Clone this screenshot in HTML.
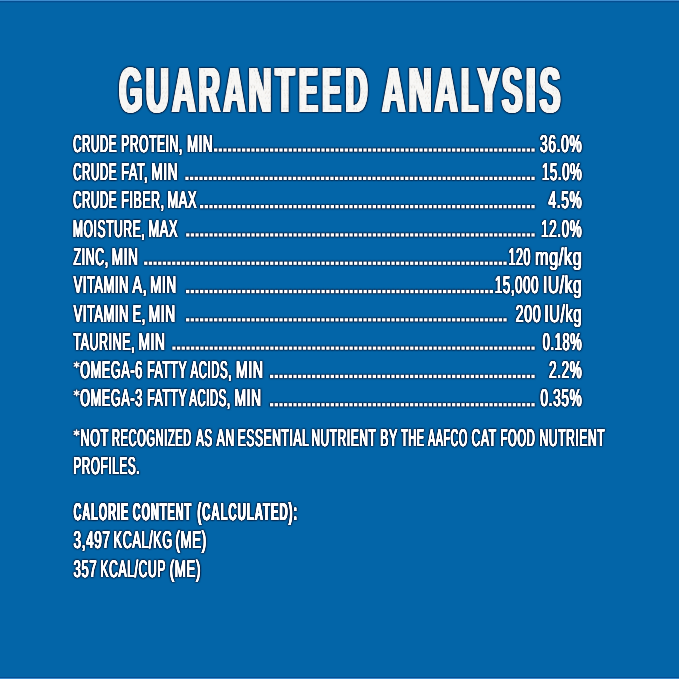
<!DOCTYPE html>
<html><head><meta charset="utf-8"><style>
html,body{margin:0;padding:0;background:#0365a8;}
body{width:679px;height:679px;overflow:hidden;position:relative;}
svg{position:absolute;left:0;top:0;}
text{font-family:"Liberation Sans",sans-serif;}
</style></head><body>
<svg width="679" height="679" viewBox="0 0 679 679" text-rendering="geometricPrecision">
<rect x="0" y="0" width="679" height="679" fill="#0365a8"/>
<rect x="0" y="0" width="679" height="1" fill="#3d8ccf"/>
<rect x="0" y="1" width="679" height="1" fill="#064f93"/>
<rect x="0" y="2" width="679" height="1" fill="#045da0"/>
<rect x="0" y="677" width="679" height="1" fill="#064f93"/>
<rect x="0" y="678" width="679" height="1" fill="#3d8ccf"/>
<defs><pattern id="speck" patternUnits="userSpaceOnUse" width="48" height="48"><rect width="48" height="48" fill="#f8f7f5"/><circle cx="15.5" cy="7.2" r="0.64" fill="#b8b2aa" fill-opacity="0.75"/><circle cx="39.4" cy="4.5" r="0.61" fill="#c9c2b8" fill-opacity="0.75"/><circle cx="1.8" cy="20.8" r="0.38" fill="#b8b2aa" fill-opacity="0.75"/><circle cx="26.5" cy="2.8" r="0.60" fill="#c9c2b8" fill-opacity="0.75"/><circle cx="30.3" cy="28.0" r="0.38" fill="#d4cdc4" fill-opacity="0.75"/><circle cx="2.4" cy="10.6" r="0.60" fill="#c9c2b8" fill-opacity="0.75"/><circle cx="13.9" cy="6.9" r="0.40" fill="#a9b4c2" fill-opacity="0.75"/><circle cx="26.9" cy="32.7" r="0.40" fill="#c9c2b8" fill-opacity="0.75"/><circle cx="17.9" cy="26.3" r="0.38" fill="#b8b2aa" fill-opacity="0.75"/><circle cx="29.7" cy="23.8" r="0.59" fill="#a9b4c2" fill-opacity="0.75"/><circle cx="22.3" cy="44.3" r="0.51" fill="#c9c2b8" fill-opacity="0.75"/><circle cx="38.1" cy="33.6" r="0.46" fill="#a9b4c2" fill-opacity="0.75"/><circle cx="25.2" cy="42.0" r="0.68" fill="#a9b4c2" fill-opacity="0.75"/><circle cx="29.2" cy="3.5" r="0.58" fill="#c9c2b8" fill-opacity="0.75"/><circle cx="36.3" cy="7.3" r="0.57" fill="#b8b2aa" fill-opacity="0.75"/><circle cx="46.2" cy="3.7" r="0.60" fill="#a9b4c2" fill-opacity="0.75"/><circle cx="16.3" cy="16.8" r="0.57" fill="#d4cdc4" fill-opacity="0.75"/><circle cx="3.3" cy="4.5" r="0.47" fill="#b8b2aa" fill-opacity="0.75"/><circle cx="2.9" cy="33.7" r="0.64" fill="#d4cdc4" fill-opacity="0.75"/><circle cx="13.7" cy="18.5" r="0.65" fill="#b8b2aa" fill-opacity="0.75"/><circle cx="45.2" cy="17.1" r="0.62" fill="#d4cdc4" fill-opacity="0.75"/><circle cx="2.8" cy="36.9" r="0.41" fill="#c9c2b8" fill-opacity="0.75"/><circle cx="19.1" cy="44.0" r="0.57" fill="#c9c2b8" fill-opacity="0.75"/><circle cx="21.6" cy="26.4" r="0.75" fill="#d4cdc4" fill-opacity="0.75"/><circle cx="41.5" cy="13.4" r="0.54" fill="#a9b4c2" fill-opacity="0.75"/><circle cx="32.8" cy="18.3" r="0.45" fill="#b8b2aa" fill-opacity="0.75"/><circle cx="8.5" cy="11.1" r="0.46" fill="#d4cdc4" fill-opacity="0.75"/><circle cx="39.9" cy="8.8" r="0.48" fill="#c9c2b8" fill-opacity="0.75"/><circle cx="20.1" cy="17.7" r="0.60" fill="#c9c2b8" fill-opacity="0.75"/><circle cx="33.1" cy="24.7" r="0.63" fill="#b8b2aa" fill-opacity="0.75"/><circle cx="21.9" cy="41.8" r="0.78" fill="#d4cdc4" fill-opacity="0.75"/><circle cx="19.1" cy="18.9" r="0.57" fill="#d4cdc4" fill-opacity="0.75"/><circle cx="3.0" cy="3.2" r="0.44" fill="#c9c2b8" fill-opacity="0.75"/><circle cx="5.3" cy="28.8" r="0.40" fill="#c9c2b8" fill-opacity="0.75"/><circle cx="25.8" cy="45.5" r="0.63" fill="#b8b2aa" fill-opacity="0.75"/><circle cx="42.0" cy="29.5" r="0.42" fill="#a9b4c2" fill-opacity="0.75"/><circle cx="45.9" cy="28.9" r="0.56" fill="#b8b2aa" fill-opacity="0.75"/><circle cx="40.7" cy="47.7" r="0.56" fill="#d4cdc4" fill-opacity="0.75"/><circle cx="15.0" cy="6.9" r="0.69" fill="#a9b4c2" fill-opacity="0.75"/><circle cx="23.0" cy="33.2" r="0.58" fill="#c9c2b8" fill-opacity="0.75"/><circle cx="45.6" cy="25.4" r="0.42" fill="#b8b2aa" fill-opacity="0.75"/><circle cx="36.4" cy="14.3" r="0.64" fill="#b8b2aa" fill-opacity="0.75"/><circle cx="33.4" cy="12.5" r="0.52" fill="#c9c2b8" fill-opacity="0.75"/><circle cx="17.1" cy="10.7" r="0.59" fill="#a9b4c2" fill-opacity="0.75"/><circle cx="30.5" cy="29.4" r="0.70" fill="#c9c2b8" fill-opacity="0.75"/><circle cx="38.7" cy="39.3" r="0.68" fill="#c9c2b8" fill-opacity="0.75"/><circle cx="9.6" cy="23.7" r="0.68" fill="#b8b2aa" fill-opacity="0.75"/><circle cx="37.9" cy="22.7" r="0.44" fill="#a9b4c2" fill-opacity="0.75"/><circle cx="21.5" cy="45.0" r="0.79" fill="#a9b4c2" fill-opacity="0.75"/><circle cx="3.9" cy="4.9" r="0.56" fill="#a9b4c2" fill-opacity="0.75"/><circle cx="9.8" cy="30.0" r="0.76" fill="#b8b2aa" fill-opacity="0.75"/><circle cx="23.0" cy="31.3" r="0.71" fill="#b8b2aa" fill-opacity="0.75"/><circle cx="40.1" cy="5.8" r="0.52" fill="#c9c2b8" fill-opacity="0.75"/><circle cx="22.9" cy="8.6" r="0.71" fill="#a9b4c2" fill-opacity="0.75"/><circle cx="4.2" cy="45.4" r="0.67" fill="#d4cdc4" fill-opacity="0.75"/><circle cx="19.3" cy="45.4" r="0.68" fill="#c9c2b8" fill-opacity="0.75"/><circle cx="47.7" cy="1.3" r="0.62" fill="#d4cdc4" fill-opacity="0.75"/><circle cx="38.7" cy="7.0" r="0.72" fill="#d4cdc4" fill-opacity="0.75"/><circle cx="31.5" cy="16.8" r="0.60" fill="#c9c2b8" fill-opacity="0.75"/><circle cx="1.0" cy="38.4" r="0.68" fill="#b8b2aa" fill-opacity="0.75"/><circle cx="25.3" cy="44.8" r="0.55" fill="#c9c2b8" fill-opacity="0.75"/><circle cx="39.7" cy="10.1" r="0.46" fill="#a9b4c2" fill-opacity="0.75"/><circle cx="24.1" cy="36.7" r="0.50" fill="#d4cdc4" fill-opacity="0.75"/><circle cx="40.0" cy="2.9" r="0.68" fill="#d4cdc4" fill-opacity="0.75"/><circle cx="31.8" cy="39.1" r="0.58" fill="#c9c2b8" fill-opacity="0.75"/><circle cx="25.5" cy="25.1" r="0.36" fill="#d4cdc4" fill-opacity="0.75"/><circle cx="37.3" cy="29.2" r="0.70" fill="#c9c2b8" fill-opacity="0.75"/><circle cx="8.3" cy="22.7" r="0.68" fill="#b8b2aa" fill-opacity="0.75"/><circle cx="15.6" cy="24.9" r="0.60" fill="#b8b2aa" fill-opacity="0.75"/><circle cx="42.4" cy="2.7" r="0.44" fill="#b8b2aa" fill-opacity="0.75"/><circle cx="37.1" cy="24.4" r="0.60" fill="#b8b2aa" fill-opacity="0.75"/><circle cx="21.3" cy="29.4" r="0.58" fill="#c9c2b8" fill-opacity="0.75"/><circle cx="33.3" cy="21.7" r="0.59" fill="#d4cdc4" fill-opacity="0.75"/><circle cx="24.4" cy="11.9" r="0.59" fill="#a9b4c2" fill-opacity="0.75"/><circle cx="44.3" cy="42.9" r="0.44" fill="#d4cdc4" fill-opacity="0.75"/><circle cx="6.6" cy="5.8" r="0.55" fill="#b8b2aa" fill-opacity="0.75"/><circle cx="32.2" cy="20.6" r="0.45" fill="#a9b4c2" fill-opacity="0.75"/><circle cx="37.6" cy="43.1" r="0.42" fill="#a9b4c2" fill-opacity="0.75"/><circle cx="6.9" cy="42.4" r="0.79" fill="#c9c2b8" fill-opacity="0.75"/><circle cx="35.8" cy="4.5" r="0.75" fill="#c9c2b8" fill-opacity="0.75"/><circle cx="47.5" cy="40.0" r="0.42" fill="#d4cdc4" fill-opacity="0.75"/><circle cx="47.7" cy="19.4" r="0.54" fill="#a9b4c2" fill-opacity="0.75"/><circle cx="15.3" cy="34.7" r="0.36" fill="#d4cdc4" fill-opacity="0.75"/><circle cx="21.1" cy="0.9" r="0.50" fill="#a9b4c2" fill-opacity="0.75"/><circle cx="24.6" cy="3.1" r="0.79" fill="#c9c2b8" fill-opacity="0.75"/><circle cx="46.6" cy="5.0" r="0.47" fill="#b8b2aa" fill-opacity="0.75"/><circle cx="43.5" cy="8.7" r="0.69" fill="#d4cdc4" fill-opacity="0.75"/><circle cx="40.8" cy="32.4" r="0.78" fill="#d4cdc4" fill-opacity="0.75"/><circle cx="7.2" cy="44.1" r="0.61" fill="#a9b4c2" fill-opacity="0.75"/><circle cx="4.3" cy="2.8" r="0.66" fill="#d4cdc4" fill-opacity="0.75"/><circle cx="43.0" cy="12.9" r="0.36" fill="#b8b2aa" fill-opacity="0.75"/><circle cx="38.5" cy="4.0" r="0.74" fill="#b8b2aa" fill-opacity="0.75"/><circle cx="12.7" cy="5.8" r="0.36" fill="#d4cdc4" fill-opacity="0.75"/><circle cx="44.5" cy="12.9" r="0.41" fill="#c9c2b8" fill-opacity="0.75"/><circle cx="45.0" cy="46.5" r="0.47" fill="#c9c2b8" fill-opacity="0.75"/><circle cx="9.7" cy="15.0" r="0.49" fill="#c9c2b8" fill-opacity="0.75"/><circle cx="13.9" cy="24.0" r="0.43" fill="#a9b4c2" fill-opacity="0.75"/><circle cx="38.6" cy="47.7" r="0.37" fill="#b8b2aa" fill-opacity="0.75"/><circle cx="35.2" cy="26.5" r="0.44" fill="#d4cdc4" fill-opacity="0.75"/><circle cx="11.8" cy="21.5" r="0.65" fill="#d4cdc4" fill-opacity="0.75"/><circle cx="31.5" cy="26.2" r="0.75" fill="#a9b4c2" fill-opacity="0.75"/><circle cx="33.0" cy="47.2" r="0.50" fill="#c9c2b8" fill-opacity="0.75"/><circle cx="19.4" cy="16.7" r="0.37" fill="#c9c2b8" fill-opacity="0.75"/><circle cx="0.7" cy="30.0" r="0.75" fill="#d4cdc4" fill-opacity="0.75"/><circle cx="7.8" cy="4.1" r="0.73" fill="#a9b4c2" fill-opacity="0.75"/><circle cx="28.7" cy="33.2" r="0.37" fill="#c9c2b8" fill-opacity="0.75"/><circle cx="7.6" cy="21.4" r="0.47" fill="#a9b4c2" fill-opacity="0.75"/><circle cx="46.7" cy="26.3" r="0.46" fill="#a9b4c2" fill-opacity="0.75"/><circle cx="10.5" cy="8.8" r="0.50" fill="#b8b2aa" fill-opacity="0.75"/><circle cx="22.8" cy="24.1" r="0.44" fill="#b8b2aa" fill-opacity="0.75"/><circle cx="4.4" cy="39.2" r="0.41" fill="#b8b2aa" fill-opacity="0.75"/><circle cx="18.9" cy="14.4" r="0.63" fill="#b8b2aa" fill-opacity="0.75"/><circle cx="28.1" cy="25.4" r="0.69" fill="#d4cdc4" fill-opacity="0.75"/><circle cx="36.7" cy="34.6" r="0.57" fill="#a9b4c2" fill-opacity="0.75"/><circle cx="34.8" cy="30.9" r="0.37" fill="#d4cdc4" fill-opacity="0.75"/><circle cx="35.2" cy="39.0" r="0.41" fill="#b8b2aa" fill-opacity="0.75"/><circle cx="39.7" cy="28.0" r="0.75" fill="#c9c2b8" fill-opacity="0.75"/><circle cx="4.1" cy="2.0" r="0.64" fill="#b8b2aa" fill-opacity="0.75"/><circle cx="18.1" cy="21.7" r="0.37" fill="#b8b2aa" fill-opacity="0.75"/><circle cx="30.1" cy="32.7" r="0.57" fill="#b8b2aa" fill-opacity="0.75"/></pattern><filter id="halo" filterUnits="userSpaceOnUse" x="0" y="0" width="679" height="679" color-interpolation-filters="sRGB">
<feGaussianBlur in="SourceAlpha" stdDeviation="1.0" result="b"/>
<feComponentTransfer in="b" result="a"><feFuncA type="linear" slope="2.6" intercept="0"/></feComponentTransfer>
<feFlood flood-color="#041d40" flood-opacity="0.9" result="f"/>
<feComposite in="f" in2="a" operator="in" result="h"/>
<feMerge><feMergeNode in="h"/><feMergeNode in="SourceGraphic"/></feMerge>
</filter></defs>
<g filter="url(#halo)">
<g fill="url(#speck)"><g font-weight="bold"><text transform="translate(119.17 111.70) scale(0.4650 1)" font-size="63.81">G</text><text transform="translate(145.92 111.70) scale(0.4940 1)" font-size="63.81">U</text><text transform="translate(172.20 111.70) scale(0.5015 1)" font-size="63.81">A</text><text transform="translate(198.67 111.70) scale(0.4599 1)" font-size="63.81">R</text><text transform="translate(223.53 111.70) scale(0.4673 1)" font-size="63.81">A</text><text transform="translate(248.52 111.70) scale(0.4962 1)" font-size="63.81">N</text><text transform="translate(275.50 111.70) scale(0.4835 1)" font-size="63.81">T</text><text transform="translate(299.04 111.70) scale(0.4419 1)" font-size="63.81">E</text><text transform="translate(322.25 111.70) scale(0.4392 1)" font-size="63.81">E</text><text transform="translate(345.59 111.70) scale(0.4789 1)" font-size="63.81">D</text><text transform="translate(382.31 111.70) scale(0.4947 1)" font-size="63.81">A</text><text transform="translate(408.72 111.70) scale(0.4962 1)" font-size="63.81">N</text><text transform="translate(434.81 111.70) scale(0.4947 1)" font-size="63.81">A</text><text transform="translate(461.18 111.70) scale(0.4307 1)" font-size="63.81">L</text><text transform="translate(477.79 111.70) scale(0.5088 1)" font-size="63.81">Y</text><text transform="translate(502.02 111.70) scale(0.4764 1)" font-size="63.81">S</text><text transform="translate(525.54 111.70) scale(0.5918 1)" font-size="63.81">I</text><text transform="translate(539.82 111.70) scale(0.4814 1)" font-size="63.81">S</text></g>
<g font-weight="bold" transform="translate(0.38 0)"><text transform="translate(119.17 111.70) scale(0.4650 1)" font-size="63.81">G</text><text transform="translate(145.92 111.70) scale(0.4940 1)" font-size="63.81">U</text><text transform="translate(172.20 111.70) scale(0.5015 1)" font-size="63.81">A</text><text transform="translate(198.67 111.70) scale(0.4599 1)" font-size="63.81">R</text><text transform="translate(223.53 111.70) scale(0.4673 1)" font-size="63.81">A</text><text transform="translate(248.52 111.70) scale(0.4962 1)" font-size="63.81">N</text><text transform="translate(275.50 111.70) scale(0.4835 1)" font-size="63.81">T</text><text transform="translate(299.04 111.70) scale(0.4419 1)" font-size="63.81">E</text><text transform="translate(322.25 111.70) scale(0.4392 1)" font-size="63.81">E</text><text transform="translate(345.59 111.70) scale(0.4789 1)" font-size="63.81">D</text><text transform="translate(382.31 111.70) scale(0.4947 1)" font-size="63.81">A</text><text transform="translate(408.72 111.70) scale(0.4962 1)" font-size="63.81">N</text><text transform="translate(434.81 111.70) scale(0.4947 1)" font-size="63.81">A</text><text transform="translate(461.18 111.70) scale(0.4307 1)" font-size="63.81">L</text><text transform="translate(477.79 111.70) scale(0.5088 1)" font-size="63.81">Y</text><text transform="translate(502.02 111.70) scale(0.4764 1)" font-size="63.81">S</text><text transform="translate(525.54 111.70) scale(0.5918 1)" font-size="63.81">I</text><text transform="translate(539.82 111.70) scale(0.4814 1)" font-size="63.81">S</text></g>
<g font-weight="bold" transform="translate(-0.38 0)"><text transform="translate(119.17 111.70) scale(0.4650 1)" font-size="63.81">G</text><text transform="translate(145.92 111.70) scale(0.4940 1)" font-size="63.81">U</text><text transform="translate(172.20 111.70) scale(0.5015 1)" font-size="63.81">A</text><text transform="translate(198.67 111.70) scale(0.4599 1)" font-size="63.81">R</text><text transform="translate(223.53 111.70) scale(0.4673 1)" font-size="63.81">A</text><text transform="translate(248.52 111.70) scale(0.4962 1)" font-size="63.81">N</text><text transform="translate(275.50 111.70) scale(0.4835 1)" font-size="63.81">T</text><text transform="translate(299.04 111.70) scale(0.4419 1)" font-size="63.81">E</text><text transform="translate(322.25 111.70) scale(0.4392 1)" font-size="63.81">E</text><text transform="translate(345.59 111.70) scale(0.4789 1)" font-size="63.81">D</text><text transform="translate(382.31 111.70) scale(0.4947 1)" font-size="63.81">A</text><text transform="translate(408.72 111.70) scale(0.4962 1)" font-size="63.81">N</text><text transform="translate(434.81 111.70) scale(0.4947 1)" font-size="63.81">A</text><text transform="translate(461.18 111.70) scale(0.4307 1)" font-size="63.81">L</text><text transform="translate(477.79 111.70) scale(0.5088 1)" font-size="63.81">Y</text><text transform="translate(502.02 111.70) scale(0.4764 1)" font-size="63.81">S</text><text transform="translate(525.54 111.70) scale(0.5918 1)" font-size="63.81">I</text><text transform="translate(539.82 111.70) scale(0.4814 1)" font-size="63.81">S</text></g>
<g font-weight="bold" transform="translate(0.75 0)"><text transform="translate(119.17 111.70) scale(0.4650 1)" font-size="63.81">G</text><text transform="translate(145.92 111.70) scale(0.4940 1)" font-size="63.81">U</text><text transform="translate(172.20 111.70) scale(0.5015 1)" font-size="63.81">A</text><text transform="translate(198.67 111.70) scale(0.4599 1)" font-size="63.81">R</text><text transform="translate(223.53 111.70) scale(0.4673 1)" font-size="63.81">A</text><text transform="translate(248.52 111.70) scale(0.4962 1)" font-size="63.81">N</text><text transform="translate(275.50 111.70) scale(0.4835 1)" font-size="63.81">T</text><text transform="translate(299.04 111.70) scale(0.4419 1)" font-size="63.81">E</text><text transform="translate(322.25 111.70) scale(0.4392 1)" font-size="63.81">E</text><text transform="translate(345.59 111.70) scale(0.4789 1)" font-size="63.81">D</text><text transform="translate(382.31 111.70) scale(0.4947 1)" font-size="63.81">A</text><text transform="translate(408.72 111.70) scale(0.4962 1)" font-size="63.81">N</text><text transform="translate(434.81 111.70) scale(0.4947 1)" font-size="63.81">A</text><text transform="translate(461.18 111.70) scale(0.4307 1)" font-size="63.81">L</text><text transform="translate(477.79 111.70) scale(0.5088 1)" font-size="63.81">Y</text><text transform="translate(502.02 111.70) scale(0.4764 1)" font-size="63.81">S</text><text transform="translate(525.54 111.70) scale(0.5918 1)" font-size="63.81">I</text><text transform="translate(539.82 111.70) scale(0.4814 1)" font-size="63.81">S</text></g>
<g font-weight="bold" transform="translate(-0.75 0)"><text transform="translate(119.17 111.70) scale(0.4650 1)" font-size="63.81">G</text><text transform="translate(145.92 111.70) scale(0.4940 1)" font-size="63.81">U</text><text transform="translate(172.20 111.70) scale(0.5015 1)" font-size="63.81">A</text><text transform="translate(198.67 111.70) scale(0.4599 1)" font-size="63.81">R</text><text transform="translate(223.53 111.70) scale(0.4673 1)" font-size="63.81">A</text><text transform="translate(248.52 111.70) scale(0.4962 1)" font-size="63.81">N</text><text transform="translate(275.50 111.70) scale(0.4835 1)" font-size="63.81">T</text><text transform="translate(299.04 111.70) scale(0.4419 1)" font-size="63.81">E</text><text transform="translate(322.25 111.70) scale(0.4392 1)" font-size="63.81">E</text><text transform="translate(345.59 111.70) scale(0.4789 1)" font-size="63.81">D</text><text transform="translate(382.31 111.70) scale(0.4947 1)" font-size="63.81">A</text><text transform="translate(408.72 111.70) scale(0.4962 1)" font-size="63.81">N</text><text transform="translate(434.81 111.70) scale(0.4947 1)" font-size="63.81">A</text><text transform="translate(461.18 111.70) scale(0.4307 1)" font-size="63.81">L</text><text transform="translate(477.79 111.70) scale(0.5088 1)" font-size="63.81">Y</text><text transform="translate(502.02 111.70) scale(0.4764 1)" font-size="63.81">S</text><text transform="translate(525.54 111.70) scale(0.5918 1)" font-size="63.81">I</text><text transform="translate(539.82 111.70) scale(0.4814 1)" font-size="63.81">S</text></g>
<g font-weight="bold" transform="translate(1.12 0)"><text transform="translate(119.17 111.70) scale(0.4650 1)" font-size="63.81">G</text><text transform="translate(145.92 111.70) scale(0.4940 1)" font-size="63.81">U</text><text transform="translate(172.20 111.70) scale(0.5015 1)" font-size="63.81">A</text><text transform="translate(198.67 111.70) scale(0.4599 1)" font-size="63.81">R</text><text transform="translate(223.53 111.70) scale(0.4673 1)" font-size="63.81">A</text><text transform="translate(248.52 111.70) scale(0.4962 1)" font-size="63.81">N</text><text transform="translate(275.50 111.70) scale(0.4835 1)" font-size="63.81">T</text><text transform="translate(299.04 111.70) scale(0.4419 1)" font-size="63.81">E</text><text transform="translate(322.25 111.70) scale(0.4392 1)" font-size="63.81">E</text><text transform="translate(345.59 111.70) scale(0.4789 1)" font-size="63.81">D</text><text transform="translate(382.31 111.70) scale(0.4947 1)" font-size="63.81">A</text><text transform="translate(408.72 111.70) scale(0.4962 1)" font-size="63.81">N</text><text transform="translate(434.81 111.70) scale(0.4947 1)" font-size="63.81">A</text><text transform="translate(461.18 111.70) scale(0.4307 1)" font-size="63.81">L</text><text transform="translate(477.79 111.70) scale(0.5088 1)" font-size="63.81">Y</text><text transform="translate(502.02 111.70) scale(0.4764 1)" font-size="63.81">S</text><text transform="translate(525.54 111.70) scale(0.5918 1)" font-size="63.81">I</text><text transform="translate(539.82 111.70) scale(0.4814 1)" font-size="63.81">S</text></g>
<g font-weight="bold" transform="translate(-1.12 0)"><text transform="translate(119.17 111.70) scale(0.4650 1)" font-size="63.81">G</text><text transform="translate(145.92 111.70) scale(0.4940 1)" font-size="63.81">U</text><text transform="translate(172.20 111.70) scale(0.5015 1)" font-size="63.81">A</text><text transform="translate(198.67 111.70) scale(0.4599 1)" font-size="63.81">R</text><text transform="translate(223.53 111.70) scale(0.4673 1)" font-size="63.81">A</text><text transform="translate(248.52 111.70) scale(0.4962 1)" font-size="63.81">N</text><text transform="translate(275.50 111.70) scale(0.4835 1)" font-size="63.81">T</text><text transform="translate(299.04 111.70) scale(0.4419 1)" font-size="63.81">E</text><text transform="translate(322.25 111.70) scale(0.4392 1)" font-size="63.81">E</text><text transform="translate(345.59 111.70) scale(0.4789 1)" font-size="63.81">D</text><text transform="translate(382.31 111.70) scale(0.4947 1)" font-size="63.81">A</text><text transform="translate(408.72 111.70) scale(0.4962 1)" font-size="63.81">N</text><text transform="translate(434.81 111.70) scale(0.4947 1)" font-size="63.81">A</text><text transform="translate(461.18 111.70) scale(0.4307 1)" font-size="63.81">L</text><text transform="translate(477.79 111.70) scale(0.5088 1)" font-size="63.81">Y</text><text transform="translate(502.02 111.70) scale(0.4764 1)" font-size="63.81">S</text><text transform="translate(525.54 111.70) scale(0.5918 1)" font-size="63.81">I</text><text transform="translate(539.82 111.70) scale(0.4814 1)" font-size="63.81">S</text></g>
<g font-weight="bold" transform="translate(1.50 0)"><text transform="translate(119.17 111.70) scale(0.4650 1)" font-size="63.81">G</text><text transform="translate(145.92 111.70) scale(0.4940 1)" font-size="63.81">U</text><text transform="translate(172.20 111.70) scale(0.5015 1)" font-size="63.81">A</text><text transform="translate(198.67 111.70) scale(0.4599 1)" font-size="63.81">R</text><text transform="translate(223.53 111.70) scale(0.4673 1)" font-size="63.81">A</text><text transform="translate(248.52 111.70) scale(0.4962 1)" font-size="63.81">N</text><text transform="translate(275.50 111.70) scale(0.4835 1)" font-size="63.81">T</text><text transform="translate(299.04 111.70) scale(0.4419 1)" font-size="63.81">E</text><text transform="translate(322.25 111.70) scale(0.4392 1)" font-size="63.81">E</text><text transform="translate(345.59 111.70) scale(0.4789 1)" font-size="63.81">D</text><text transform="translate(382.31 111.70) scale(0.4947 1)" font-size="63.81">A</text><text transform="translate(408.72 111.70) scale(0.4962 1)" font-size="63.81">N</text><text transform="translate(434.81 111.70) scale(0.4947 1)" font-size="63.81">A</text><text transform="translate(461.18 111.70) scale(0.4307 1)" font-size="63.81">L</text><text transform="translate(477.79 111.70) scale(0.5088 1)" font-size="63.81">Y</text><text transform="translate(502.02 111.70) scale(0.4764 1)" font-size="63.81">S</text><text transform="translate(525.54 111.70) scale(0.5918 1)" font-size="63.81">I</text><text transform="translate(539.82 111.70) scale(0.4814 1)" font-size="63.81">S</text></g>
<g font-weight="bold" transform="translate(-1.50 0)"><text transform="translate(119.17 111.70) scale(0.4650 1)" font-size="63.81">G</text><text transform="translate(145.92 111.70) scale(0.4940 1)" font-size="63.81">U</text><text transform="translate(172.20 111.70) scale(0.5015 1)" font-size="63.81">A</text><text transform="translate(198.67 111.70) scale(0.4599 1)" font-size="63.81">R</text><text transform="translate(223.53 111.70) scale(0.4673 1)" font-size="63.81">A</text><text transform="translate(248.52 111.70) scale(0.4962 1)" font-size="63.81">N</text><text transform="translate(275.50 111.70) scale(0.4835 1)" font-size="63.81">T</text><text transform="translate(299.04 111.70) scale(0.4419 1)" font-size="63.81">E</text><text transform="translate(322.25 111.70) scale(0.4392 1)" font-size="63.81">E</text><text transform="translate(345.59 111.70) scale(0.4789 1)" font-size="63.81">D</text><text transform="translate(382.31 111.70) scale(0.4947 1)" font-size="63.81">A</text><text transform="translate(408.72 111.70) scale(0.4962 1)" font-size="63.81">N</text><text transform="translate(434.81 111.70) scale(0.4947 1)" font-size="63.81">A</text><text transform="translate(461.18 111.70) scale(0.4307 1)" font-size="63.81">L</text><text transform="translate(477.79 111.70) scale(0.5088 1)" font-size="63.81">Y</text><text transform="translate(502.02 111.70) scale(0.4764 1)" font-size="63.81">S</text><text transform="translate(525.54 111.70) scale(0.5918 1)" font-size="63.81">I</text><text transform="translate(539.82 111.70) scale(0.4814 1)" font-size="63.81">S</text></g></g>
<g fill="#fff"><g font-weight="normal"><text transform="translate(73.22 151.70) scale(0.4694 1)" font-size="24.27" letter-spacing="1.491">CRUDE</text><text transform="translate(121.32 151.70) scale(0.4886 1)" font-size="24.27" letter-spacing="1.433">PROTEIN,</text><text transform="translate(187.13 151.70) scale(0.5367 1)" font-size="24.27" letter-spacing="1.304">MIN</text><text transform="translate(540.02 151.70) scale(0.5643 1)" font-size="24.27" letter-spacing="1.241">36.0%</text><text transform="translate(73.22 180.00) scale(0.4694 1)" font-size="24.27" letter-spacing="1.491">CRUDE</text><text transform="translate(121.27 180.00) scale(0.5157 1)" font-size="24.27" letter-spacing="1.357">FAT,</text><text transform="translate(151.50 180.00) scale(0.5515 1)" font-size="24.27" letter-spacing="1.269">MIN</text><text transform="translate(542.04 180.00) scale(0.5347 1)" font-size="24.27" letter-spacing="1.309">15.0%</text><text transform="translate(73.22 208.30) scale(0.4694 1)" font-size="24.27" letter-spacing="1.491">CRUDE</text><text transform="translate(121.30 208.30) scale(0.5019 1)" font-size="24.27" letter-spacing="1.395">FIBER,</text><text transform="translate(167.45 208.30) scale(0.5253 1)" font-size="24.27" letter-spacing="1.332">MAX</text><text transform="translate(548.54 208.30) scale(0.5606 1)" font-size="24.27" letter-spacing="1.249">4.5%</text><text transform="translate(73.02 236.60) scale(0.4895 1)" font-size="24.27" letter-spacing="1.430">MOISTURE,</text><text transform="translate(148.45 236.60) scale(0.5253 1)" font-size="24.27" letter-spacing="1.332">MAX</text><text transform="translate(541.12 236.60) scale(0.5482 1)" font-size="24.27" letter-spacing="1.277">12.0%</text><text transform="translate(73.57 264.90) scale(0.5016 1)" font-size="24.27" letter-spacing="1.395">ZINC,</text><text transform="translate(111.80 264.90) scale(0.5539 1)" font-size="24.27" letter-spacing="1.264">MIN</text><text transform="translate(508.59 264.90) scale(0.5029 1)" font-size="24.27" letter-spacing="1.392">120</text><text transform="translate(535.15 264.90) scale(0.6612 1)" font-size="24.27" letter-spacing="1.059">mg/kg</text><text transform="translate(73.75 293.20) scale(0.5208 1)" font-size="24.27" letter-spacing="1.344">VITAMIN</text><text transform="translate(132.55 293.20) scale(0.5824 1)" font-size="24.27" letter-spacing="1.202">A,</text><text transform="translate(150.31 293.20) scale(0.5466 1)" font-size="24.27" letter-spacing="1.281">MIN</text><text transform="translate(494.83 293.20) scale(0.5408 1)" font-size="24.27" letter-spacing="1.294">15,000</text><text transform="translate(543.05 293.20) scale(0.6312 1)" font-size="24.27" letter-spacing="1.109">IU/kg</text><text transform="translate(73.75 321.50) scale(0.5208 1)" font-size="24.27" letter-spacing="1.344">VITAMIN</text><text transform="translate(132.78 321.50) scale(0.5098 1)" font-size="24.27" letter-spacing="1.373">E,</text><text transform="translate(148.79 321.50) scale(0.5589 1)" font-size="24.27" letter-spacing="1.253">MIN</text><text transform="translate(515.58 321.50) scale(0.5857 1)" font-size="24.27" letter-spacing="1.195">200</text><text transform="translate(544.50 321.50) scale(0.6049 1)" font-size="24.27" letter-spacing="1.157">IU/kg</text><text transform="translate(73.46 349.80) scale(0.5042 1)" font-size="24.27" letter-spacing="1.388">TAURINE,</text><text transform="translate(138.59 349.80) scale(0.5589 1)" font-size="24.27" letter-spacing="1.253">MIN</text><text transform="translate(542.75 349.80) scale(0.5242 1)" font-size="24.27" letter-spacing="1.335">0.18%</text><text transform="translate(80.26 378.10) scale(0.5163 1)" font-size="24.27" letter-spacing="1.356">OMEGA-6</text><text transform="translate(147.21 378.10) scale(0.4961 1)" font-size="24.27" letter-spacing="1.411">FATTY</text><text transform="translate(190.65 378.10) scale(0.4601 1)" font-size="24.27" letter-spacing="1.521">ACIDS,</text><text transform="translate(236.06 378.10) scale(0.5736 1)" font-size="24.27" letter-spacing="1.220">MIN</text><text transform="translate(549.12 378.10) scale(0.5499 1)" font-size="24.27" letter-spacing="1.273">2.2%</text><text transform="translate(80.26 406.40) scale(0.5163 1)" font-size="24.27" letter-spacing="1.356">OMEGA-3</text><text transform="translate(147.21 406.40) scale(0.4961 1)" font-size="24.27" letter-spacing="1.411">FATTY</text><text transform="translate(189.35 406.40) scale(0.4601 1)" font-size="24.27" letter-spacing="1.521">ACIDS,</text><text transform="translate(234.59 406.40) scale(0.5613 1)" font-size="24.27" letter-spacing="1.247">MIN</text><text transform="translate(540.43 406.40) scale(0.5583 1)" font-size="24.27" letter-spacing="1.254">0.35%</text><text transform="translate(80.47 446.00) scale(0.5151 1)" font-size="24.27" letter-spacing="1.359">NOT</text><text transform="translate(112.00 446.00) scale(0.4507 1)" font-size="24.27" letter-spacing="1.553">RECOGNIZED</text><text transform="translate(196.25 446.00) scale(0.4655 1)" font-size="24.27" letter-spacing="1.504">AS</text><text transform="translate(216.75 446.00) scale(0.4946 1)" font-size="24.27" letter-spacing="1.415">AN</text><text transform="translate(237.72 446.00) scale(0.4899 1)" font-size="24.27" letter-spacing="1.429">ESSENTIAL</text><text transform="translate(311.43 446.00) scale(0.4842 1)" font-size="24.27" letter-spacing="1.446">NUTRIENT</text><text transform="translate(380.30 446.00) scale(0.4996 1)" font-size="24.27" letter-spacing="1.401">BY</text><text transform="translate(401.18 446.00) scale(0.4412 1)" font-size="24.27" letter-spacing="1.587">THE</text><text transform="translate(428.15 446.00) scale(0.4324 1)" font-size="24.27" letter-spacing="1.619">AAFCO</text><text transform="translate(471.59 446.00) scale(0.4934 1)" font-size="24.27" letter-spacing="1.419">CAT</text><text transform="translate(500.58 446.00) scale(0.4571 1)" font-size="24.27" letter-spacing="1.531">FOOD</text><text transform="translate(539.62 446.00) scale(0.4892 1)" font-size="24.27" letter-spacing="1.431">NUTRIENT</text><text transform="translate(73.45 474.40) scale(0.4768 1)" font-size="24.27" letter-spacing="1.468">PROFILES.</text><text transform="translate(73.53 548.20) scale(0.5525 1)" font-size="24.27" letter-spacing="1.267">3,497</text><text transform="translate(113.67 548.20) scale(0.5152 1)" font-size="24.27" letter-spacing="1.359">KCAL/KG</text><text transform="translate(175.53 548.20) scale(0.5420 1)" font-size="24.27" letter-spacing="1.291">(ME)</text><text transform="translate(73.54 576.50) scale(0.5406 1)" font-size="23.98" letter-spacing="1.295">357</text><text transform="translate(100.41 576.50) scale(0.5014 1)" font-size="23.98" letter-spacing="1.396">KCAL/CUP</text><text transform="translate(169.73 576.50) scale(0.5486 1)" font-size="23.98" letter-spacing="1.276">(ME)</text></g>
<g font-weight="normal" transform="translate(0.15 0)"><text transform="translate(73.22 151.70) scale(0.4694 1)" font-size="24.27" letter-spacing="1.491">CRUDE</text><text transform="translate(121.32 151.70) scale(0.4886 1)" font-size="24.27" letter-spacing="1.433">PROTEIN,</text><text transform="translate(187.13 151.70) scale(0.5367 1)" font-size="24.27" letter-spacing="1.304">MIN</text><text transform="translate(540.02 151.70) scale(0.5643 1)" font-size="24.27" letter-spacing="1.241">36.0%</text><text transform="translate(73.22 180.00) scale(0.4694 1)" font-size="24.27" letter-spacing="1.491">CRUDE</text><text transform="translate(121.27 180.00) scale(0.5157 1)" font-size="24.27" letter-spacing="1.357">FAT,</text><text transform="translate(151.50 180.00) scale(0.5515 1)" font-size="24.27" letter-spacing="1.269">MIN</text><text transform="translate(542.04 180.00) scale(0.5347 1)" font-size="24.27" letter-spacing="1.309">15.0%</text><text transform="translate(73.22 208.30) scale(0.4694 1)" font-size="24.27" letter-spacing="1.491">CRUDE</text><text transform="translate(121.30 208.30) scale(0.5019 1)" font-size="24.27" letter-spacing="1.395">FIBER,</text><text transform="translate(167.45 208.30) scale(0.5253 1)" font-size="24.27" letter-spacing="1.332">MAX</text><text transform="translate(548.54 208.30) scale(0.5606 1)" font-size="24.27" letter-spacing="1.249">4.5%</text><text transform="translate(73.02 236.60) scale(0.4895 1)" font-size="24.27" letter-spacing="1.430">MOISTURE,</text><text transform="translate(148.45 236.60) scale(0.5253 1)" font-size="24.27" letter-spacing="1.332">MAX</text><text transform="translate(541.12 236.60) scale(0.5482 1)" font-size="24.27" letter-spacing="1.277">12.0%</text><text transform="translate(73.57 264.90) scale(0.5016 1)" font-size="24.27" letter-spacing="1.395">ZINC,</text><text transform="translate(111.80 264.90) scale(0.5539 1)" font-size="24.27" letter-spacing="1.264">MIN</text><text transform="translate(508.59 264.90) scale(0.5029 1)" font-size="24.27" letter-spacing="1.392">120</text><text transform="translate(535.15 264.90) scale(0.6612 1)" font-size="24.27" letter-spacing="1.059">mg/kg</text><text transform="translate(73.75 293.20) scale(0.5208 1)" font-size="24.27" letter-spacing="1.344">VITAMIN</text><text transform="translate(132.55 293.20) scale(0.5824 1)" font-size="24.27" letter-spacing="1.202">A,</text><text transform="translate(150.31 293.20) scale(0.5466 1)" font-size="24.27" letter-spacing="1.281">MIN</text><text transform="translate(494.83 293.20) scale(0.5408 1)" font-size="24.27" letter-spacing="1.294">15,000</text><text transform="translate(543.05 293.20) scale(0.6312 1)" font-size="24.27" letter-spacing="1.109">IU/kg</text><text transform="translate(73.75 321.50) scale(0.5208 1)" font-size="24.27" letter-spacing="1.344">VITAMIN</text><text transform="translate(132.78 321.50) scale(0.5098 1)" font-size="24.27" letter-spacing="1.373">E,</text><text transform="translate(148.79 321.50) scale(0.5589 1)" font-size="24.27" letter-spacing="1.253">MIN</text><text transform="translate(515.58 321.50) scale(0.5857 1)" font-size="24.27" letter-spacing="1.195">200</text><text transform="translate(544.50 321.50) scale(0.6049 1)" font-size="24.27" letter-spacing="1.157">IU/kg</text><text transform="translate(73.46 349.80) scale(0.5042 1)" font-size="24.27" letter-spacing="1.388">TAURINE,</text><text transform="translate(138.59 349.80) scale(0.5589 1)" font-size="24.27" letter-spacing="1.253">MIN</text><text transform="translate(542.75 349.80) scale(0.5242 1)" font-size="24.27" letter-spacing="1.335">0.18%</text><text transform="translate(80.26 378.10) scale(0.5163 1)" font-size="24.27" letter-spacing="1.356">OMEGA-6</text><text transform="translate(147.21 378.10) scale(0.4961 1)" font-size="24.27" letter-spacing="1.411">FATTY</text><text transform="translate(190.65 378.10) scale(0.4601 1)" font-size="24.27" letter-spacing="1.521">ACIDS,</text><text transform="translate(236.06 378.10) scale(0.5736 1)" font-size="24.27" letter-spacing="1.220">MIN</text><text transform="translate(549.12 378.10) scale(0.5499 1)" font-size="24.27" letter-spacing="1.273">2.2%</text><text transform="translate(80.26 406.40) scale(0.5163 1)" font-size="24.27" letter-spacing="1.356">OMEGA-3</text><text transform="translate(147.21 406.40) scale(0.4961 1)" font-size="24.27" letter-spacing="1.411">FATTY</text><text transform="translate(189.35 406.40) scale(0.4601 1)" font-size="24.27" letter-spacing="1.521">ACIDS,</text><text transform="translate(234.59 406.40) scale(0.5613 1)" font-size="24.27" letter-spacing="1.247">MIN</text><text transform="translate(540.43 406.40) scale(0.5583 1)" font-size="24.27" letter-spacing="1.254">0.35%</text><text transform="translate(80.47 446.00) scale(0.5151 1)" font-size="24.27" letter-spacing="1.359">NOT</text><text transform="translate(112.00 446.00) scale(0.4507 1)" font-size="24.27" letter-spacing="1.553">RECOGNIZED</text><text transform="translate(196.25 446.00) scale(0.4655 1)" font-size="24.27" letter-spacing="1.504">AS</text><text transform="translate(216.75 446.00) scale(0.4946 1)" font-size="24.27" letter-spacing="1.415">AN</text><text transform="translate(237.72 446.00) scale(0.4899 1)" font-size="24.27" letter-spacing="1.429">ESSENTIAL</text><text transform="translate(311.43 446.00) scale(0.4842 1)" font-size="24.27" letter-spacing="1.446">NUTRIENT</text><text transform="translate(380.30 446.00) scale(0.4996 1)" font-size="24.27" letter-spacing="1.401">BY</text><text transform="translate(401.18 446.00) scale(0.4412 1)" font-size="24.27" letter-spacing="1.587">THE</text><text transform="translate(428.15 446.00) scale(0.4324 1)" font-size="24.27" letter-spacing="1.619">AAFCO</text><text transform="translate(471.59 446.00) scale(0.4934 1)" font-size="24.27" letter-spacing="1.419">CAT</text><text transform="translate(500.58 446.00) scale(0.4571 1)" font-size="24.27" letter-spacing="1.531">FOOD</text><text transform="translate(539.62 446.00) scale(0.4892 1)" font-size="24.27" letter-spacing="1.431">NUTRIENT</text><text transform="translate(73.45 474.40) scale(0.4768 1)" font-size="24.27" letter-spacing="1.468">PROFILES.</text><text transform="translate(73.53 548.20) scale(0.5525 1)" font-size="24.27" letter-spacing="1.267">3,497</text><text transform="translate(113.67 548.20) scale(0.5152 1)" font-size="24.27" letter-spacing="1.359">KCAL/KG</text><text transform="translate(175.53 548.20) scale(0.5420 1)" font-size="24.27" letter-spacing="1.291">(ME)</text><text transform="translate(73.54 576.50) scale(0.5406 1)" font-size="23.98" letter-spacing="1.295">357</text><text transform="translate(100.41 576.50) scale(0.5014 1)" font-size="23.98" letter-spacing="1.396">KCAL/CUP</text><text transform="translate(169.73 576.50) scale(0.5486 1)" font-size="23.98" letter-spacing="1.276">(ME)</text></g>
<g font-weight="normal" transform="translate(-0.15 0)"><text transform="translate(73.22 151.70) scale(0.4694 1)" font-size="24.27" letter-spacing="1.491">CRUDE</text><text transform="translate(121.32 151.70) scale(0.4886 1)" font-size="24.27" letter-spacing="1.433">PROTEIN,</text><text transform="translate(187.13 151.70) scale(0.5367 1)" font-size="24.27" letter-spacing="1.304">MIN</text><text transform="translate(540.02 151.70) scale(0.5643 1)" font-size="24.27" letter-spacing="1.241">36.0%</text><text transform="translate(73.22 180.00) scale(0.4694 1)" font-size="24.27" letter-spacing="1.491">CRUDE</text><text transform="translate(121.27 180.00) scale(0.5157 1)" font-size="24.27" letter-spacing="1.357">FAT,</text><text transform="translate(151.50 180.00) scale(0.5515 1)" font-size="24.27" letter-spacing="1.269">MIN</text><text transform="translate(542.04 180.00) scale(0.5347 1)" font-size="24.27" letter-spacing="1.309">15.0%</text><text transform="translate(73.22 208.30) scale(0.4694 1)" font-size="24.27" letter-spacing="1.491">CRUDE</text><text transform="translate(121.30 208.30) scale(0.5019 1)" font-size="24.27" letter-spacing="1.395">FIBER,</text><text transform="translate(167.45 208.30) scale(0.5253 1)" font-size="24.27" letter-spacing="1.332">MAX</text><text transform="translate(548.54 208.30) scale(0.5606 1)" font-size="24.27" letter-spacing="1.249">4.5%</text><text transform="translate(73.02 236.60) scale(0.4895 1)" font-size="24.27" letter-spacing="1.430">MOISTURE,</text><text transform="translate(148.45 236.60) scale(0.5253 1)" font-size="24.27" letter-spacing="1.332">MAX</text><text transform="translate(541.12 236.60) scale(0.5482 1)" font-size="24.27" letter-spacing="1.277">12.0%</text><text transform="translate(73.57 264.90) scale(0.5016 1)" font-size="24.27" letter-spacing="1.395">ZINC,</text><text transform="translate(111.80 264.90) scale(0.5539 1)" font-size="24.27" letter-spacing="1.264">MIN</text><text transform="translate(508.59 264.90) scale(0.5029 1)" font-size="24.27" letter-spacing="1.392">120</text><text transform="translate(535.15 264.90) scale(0.6612 1)" font-size="24.27" letter-spacing="1.059">mg/kg</text><text transform="translate(73.75 293.20) scale(0.5208 1)" font-size="24.27" letter-spacing="1.344">VITAMIN</text><text transform="translate(132.55 293.20) scale(0.5824 1)" font-size="24.27" letter-spacing="1.202">A,</text><text transform="translate(150.31 293.20) scale(0.5466 1)" font-size="24.27" letter-spacing="1.281">MIN</text><text transform="translate(494.83 293.20) scale(0.5408 1)" font-size="24.27" letter-spacing="1.294">15,000</text><text transform="translate(543.05 293.20) scale(0.6312 1)" font-size="24.27" letter-spacing="1.109">IU/kg</text><text transform="translate(73.75 321.50) scale(0.5208 1)" font-size="24.27" letter-spacing="1.344">VITAMIN</text><text transform="translate(132.78 321.50) scale(0.5098 1)" font-size="24.27" letter-spacing="1.373">E,</text><text transform="translate(148.79 321.50) scale(0.5589 1)" font-size="24.27" letter-spacing="1.253">MIN</text><text transform="translate(515.58 321.50) scale(0.5857 1)" font-size="24.27" letter-spacing="1.195">200</text><text transform="translate(544.50 321.50) scale(0.6049 1)" font-size="24.27" letter-spacing="1.157">IU/kg</text><text transform="translate(73.46 349.80) scale(0.5042 1)" font-size="24.27" letter-spacing="1.388">TAURINE,</text><text transform="translate(138.59 349.80) scale(0.5589 1)" font-size="24.27" letter-spacing="1.253">MIN</text><text transform="translate(542.75 349.80) scale(0.5242 1)" font-size="24.27" letter-spacing="1.335">0.18%</text><text transform="translate(80.26 378.10) scale(0.5163 1)" font-size="24.27" letter-spacing="1.356">OMEGA-6</text><text transform="translate(147.21 378.10) scale(0.4961 1)" font-size="24.27" letter-spacing="1.411">FATTY</text><text transform="translate(190.65 378.10) scale(0.4601 1)" font-size="24.27" letter-spacing="1.521">ACIDS,</text><text transform="translate(236.06 378.10) scale(0.5736 1)" font-size="24.27" letter-spacing="1.220">MIN</text><text transform="translate(549.12 378.10) scale(0.5499 1)" font-size="24.27" letter-spacing="1.273">2.2%</text><text transform="translate(80.26 406.40) scale(0.5163 1)" font-size="24.27" letter-spacing="1.356">OMEGA-3</text><text transform="translate(147.21 406.40) scale(0.4961 1)" font-size="24.27" letter-spacing="1.411">FATTY</text><text transform="translate(189.35 406.40) scale(0.4601 1)" font-size="24.27" letter-spacing="1.521">ACIDS,</text><text transform="translate(234.59 406.40) scale(0.5613 1)" font-size="24.27" letter-spacing="1.247">MIN</text><text transform="translate(540.43 406.40) scale(0.5583 1)" font-size="24.27" letter-spacing="1.254">0.35%</text><text transform="translate(80.47 446.00) scale(0.5151 1)" font-size="24.27" letter-spacing="1.359">NOT</text><text transform="translate(112.00 446.00) scale(0.4507 1)" font-size="24.27" letter-spacing="1.553">RECOGNIZED</text><text transform="translate(196.25 446.00) scale(0.4655 1)" font-size="24.27" letter-spacing="1.504">AS</text><text transform="translate(216.75 446.00) scale(0.4946 1)" font-size="24.27" letter-spacing="1.415">AN</text><text transform="translate(237.72 446.00) scale(0.4899 1)" font-size="24.27" letter-spacing="1.429">ESSENTIAL</text><text transform="translate(311.43 446.00) scale(0.4842 1)" font-size="24.27" letter-spacing="1.446">NUTRIENT</text><text transform="translate(380.30 446.00) scale(0.4996 1)" font-size="24.27" letter-spacing="1.401">BY</text><text transform="translate(401.18 446.00) scale(0.4412 1)" font-size="24.27" letter-spacing="1.587">THE</text><text transform="translate(428.15 446.00) scale(0.4324 1)" font-size="24.27" letter-spacing="1.619">AAFCO</text><text transform="translate(471.59 446.00) scale(0.4934 1)" font-size="24.27" letter-spacing="1.419">CAT</text><text transform="translate(500.58 446.00) scale(0.4571 1)" font-size="24.27" letter-spacing="1.531">FOOD</text><text transform="translate(539.62 446.00) scale(0.4892 1)" font-size="24.27" letter-spacing="1.431">NUTRIENT</text><text transform="translate(73.45 474.40) scale(0.4768 1)" font-size="24.27" letter-spacing="1.468">PROFILES.</text><text transform="translate(73.53 548.20) scale(0.5525 1)" font-size="24.27" letter-spacing="1.267">3,497</text><text transform="translate(113.67 548.20) scale(0.5152 1)" font-size="24.27" letter-spacing="1.359">KCAL/KG</text><text transform="translate(175.53 548.20) scale(0.5420 1)" font-size="24.27" letter-spacing="1.291">(ME)</text><text transform="translate(73.54 576.50) scale(0.5406 1)" font-size="23.98" letter-spacing="1.295">357</text><text transform="translate(100.41 576.50) scale(0.5014 1)" font-size="23.98" letter-spacing="1.396">KCAL/CUP</text><text transform="translate(169.73 576.50) scale(0.5486 1)" font-size="23.98" letter-spacing="1.276">(ME)</text></g>
<g font-weight="normal" transform="translate(0.30 0)"><text transform="translate(73.22 151.70) scale(0.4694 1)" font-size="24.27" letter-spacing="1.491">CRUDE</text><text transform="translate(121.32 151.70) scale(0.4886 1)" font-size="24.27" letter-spacing="1.433">PROTEIN,</text><text transform="translate(187.13 151.70) scale(0.5367 1)" font-size="24.27" letter-spacing="1.304">MIN</text><text transform="translate(540.02 151.70) scale(0.5643 1)" font-size="24.27" letter-spacing="1.241">36.0%</text><text transform="translate(73.22 180.00) scale(0.4694 1)" font-size="24.27" letter-spacing="1.491">CRUDE</text><text transform="translate(121.27 180.00) scale(0.5157 1)" font-size="24.27" letter-spacing="1.357">FAT,</text><text transform="translate(151.50 180.00) scale(0.5515 1)" font-size="24.27" letter-spacing="1.269">MIN</text><text transform="translate(542.04 180.00) scale(0.5347 1)" font-size="24.27" letter-spacing="1.309">15.0%</text><text transform="translate(73.22 208.30) scale(0.4694 1)" font-size="24.27" letter-spacing="1.491">CRUDE</text><text transform="translate(121.30 208.30) scale(0.5019 1)" font-size="24.27" letter-spacing="1.395">FIBER,</text><text transform="translate(167.45 208.30) scale(0.5253 1)" font-size="24.27" letter-spacing="1.332">MAX</text><text transform="translate(548.54 208.30) scale(0.5606 1)" font-size="24.27" letter-spacing="1.249">4.5%</text><text transform="translate(73.02 236.60) scale(0.4895 1)" font-size="24.27" letter-spacing="1.430">MOISTURE,</text><text transform="translate(148.45 236.60) scale(0.5253 1)" font-size="24.27" letter-spacing="1.332">MAX</text><text transform="translate(541.12 236.60) scale(0.5482 1)" font-size="24.27" letter-spacing="1.277">12.0%</text><text transform="translate(73.57 264.90) scale(0.5016 1)" font-size="24.27" letter-spacing="1.395">ZINC,</text><text transform="translate(111.80 264.90) scale(0.5539 1)" font-size="24.27" letter-spacing="1.264">MIN</text><text transform="translate(508.59 264.90) scale(0.5029 1)" font-size="24.27" letter-spacing="1.392">120</text><text transform="translate(535.15 264.90) scale(0.6612 1)" font-size="24.27" letter-spacing="1.059">mg/kg</text><text transform="translate(73.75 293.20) scale(0.5208 1)" font-size="24.27" letter-spacing="1.344">VITAMIN</text><text transform="translate(132.55 293.20) scale(0.5824 1)" font-size="24.27" letter-spacing="1.202">A,</text><text transform="translate(150.31 293.20) scale(0.5466 1)" font-size="24.27" letter-spacing="1.281">MIN</text><text transform="translate(494.83 293.20) scale(0.5408 1)" font-size="24.27" letter-spacing="1.294">15,000</text><text transform="translate(543.05 293.20) scale(0.6312 1)" font-size="24.27" letter-spacing="1.109">IU/kg</text><text transform="translate(73.75 321.50) scale(0.5208 1)" font-size="24.27" letter-spacing="1.344">VITAMIN</text><text transform="translate(132.78 321.50) scale(0.5098 1)" font-size="24.27" letter-spacing="1.373">E,</text><text transform="translate(148.79 321.50) scale(0.5589 1)" font-size="24.27" letter-spacing="1.253">MIN</text><text transform="translate(515.58 321.50) scale(0.5857 1)" font-size="24.27" letter-spacing="1.195">200</text><text transform="translate(544.50 321.50) scale(0.6049 1)" font-size="24.27" letter-spacing="1.157">IU/kg</text><text transform="translate(73.46 349.80) scale(0.5042 1)" font-size="24.27" letter-spacing="1.388">TAURINE,</text><text transform="translate(138.59 349.80) scale(0.5589 1)" font-size="24.27" letter-spacing="1.253">MIN</text><text transform="translate(542.75 349.80) scale(0.5242 1)" font-size="24.27" letter-spacing="1.335">0.18%</text><text transform="translate(80.26 378.10) scale(0.5163 1)" font-size="24.27" letter-spacing="1.356">OMEGA-6</text><text transform="translate(147.21 378.10) scale(0.4961 1)" font-size="24.27" letter-spacing="1.411">FATTY</text><text transform="translate(190.65 378.10) scale(0.4601 1)" font-size="24.27" letter-spacing="1.521">ACIDS,</text><text transform="translate(236.06 378.10) scale(0.5736 1)" font-size="24.27" letter-spacing="1.220">MIN</text><text transform="translate(549.12 378.10) scale(0.5499 1)" font-size="24.27" letter-spacing="1.273">2.2%</text><text transform="translate(80.26 406.40) scale(0.5163 1)" font-size="24.27" letter-spacing="1.356">OMEGA-3</text><text transform="translate(147.21 406.40) scale(0.4961 1)" font-size="24.27" letter-spacing="1.411">FATTY</text><text transform="translate(189.35 406.40) scale(0.4601 1)" font-size="24.27" letter-spacing="1.521">ACIDS,</text><text transform="translate(234.59 406.40) scale(0.5613 1)" font-size="24.27" letter-spacing="1.247">MIN</text><text transform="translate(540.43 406.40) scale(0.5583 1)" font-size="24.27" letter-spacing="1.254">0.35%</text><text transform="translate(80.47 446.00) scale(0.5151 1)" font-size="24.27" letter-spacing="1.359">NOT</text><text transform="translate(112.00 446.00) scale(0.4507 1)" font-size="24.27" letter-spacing="1.553">RECOGNIZED</text><text transform="translate(196.25 446.00) scale(0.4655 1)" font-size="24.27" letter-spacing="1.504">AS</text><text transform="translate(216.75 446.00) scale(0.4946 1)" font-size="24.27" letter-spacing="1.415">AN</text><text transform="translate(237.72 446.00) scale(0.4899 1)" font-size="24.27" letter-spacing="1.429">ESSENTIAL</text><text transform="translate(311.43 446.00) scale(0.4842 1)" font-size="24.27" letter-spacing="1.446">NUTRIENT</text><text transform="translate(380.30 446.00) scale(0.4996 1)" font-size="24.27" letter-spacing="1.401">BY</text><text transform="translate(401.18 446.00) scale(0.4412 1)" font-size="24.27" letter-spacing="1.587">THE</text><text transform="translate(428.15 446.00) scale(0.4324 1)" font-size="24.27" letter-spacing="1.619">AAFCO</text><text transform="translate(471.59 446.00) scale(0.4934 1)" font-size="24.27" letter-spacing="1.419">CAT</text><text transform="translate(500.58 446.00) scale(0.4571 1)" font-size="24.27" letter-spacing="1.531">FOOD</text><text transform="translate(539.62 446.00) scale(0.4892 1)" font-size="24.27" letter-spacing="1.431">NUTRIENT</text><text transform="translate(73.45 474.40) scale(0.4768 1)" font-size="24.27" letter-spacing="1.468">PROFILES.</text><text transform="translate(73.53 548.20) scale(0.5525 1)" font-size="24.27" letter-spacing="1.267">3,497</text><text transform="translate(113.67 548.20) scale(0.5152 1)" font-size="24.27" letter-spacing="1.359">KCAL/KG</text><text transform="translate(175.53 548.20) scale(0.5420 1)" font-size="24.27" letter-spacing="1.291">(ME)</text><text transform="translate(73.54 576.50) scale(0.5406 1)" font-size="23.98" letter-spacing="1.295">357</text><text transform="translate(100.41 576.50) scale(0.5014 1)" font-size="23.98" letter-spacing="1.396">KCAL/CUP</text><text transform="translate(169.73 576.50) scale(0.5486 1)" font-size="23.98" letter-spacing="1.276">(ME)</text></g>
<g font-weight="normal" transform="translate(-0.30 0)"><text transform="translate(73.22 151.70) scale(0.4694 1)" font-size="24.27" letter-spacing="1.491">CRUDE</text><text transform="translate(121.32 151.70) scale(0.4886 1)" font-size="24.27" letter-spacing="1.433">PROTEIN,</text><text transform="translate(187.13 151.70) scale(0.5367 1)" font-size="24.27" letter-spacing="1.304">MIN</text><text transform="translate(540.02 151.70) scale(0.5643 1)" font-size="24.27" letter-spacing="1.241">36.0%</text><text transform="translate(73.22 180.00) scale(0.4694 1)" font-size="24.27" letter-spacing="1.491">CRUDE</text><text transform="translate(121.27 180.00) scale(0.5157 1)" font-size="24.27" letter-spacing="1.357">FAT,</text><text transform="translate(151.50 180.00) scale(0.5515 1)" font-size="24.27" letter-spacing="1.269">MIN</text><text transform="translate(542.04 180.00) scale(0.5347 1)" font-size="24.27" letter-spacing="1.309">15.0%</text><text transform="translate(73.22 208.30) scale(0.4694 1)" font-size="24.27" letter-spacing="1.491">CRUDE</text><text transform="translate(121.30 208.30) scale(0.5019 1)" font-size="24.27" letter-spacing="1.395">FIBER,</text><text transform="translate(167.45 208.30) scale(0.5253 1)" font-size="24.27" letter-spacing="1.332">MAX</text><text transform="translate(548.54 208.30) scale(0.5606 1)" font-size="24.27" letter-spacing="1.249">4.5%</text><text transform="translate(73.02 236.60) scale(0.4895 1)" font-size="24.27" letter-spacing="1.430">MOISTURE,</text><text transform="translate(148.45 236.60) scale(0.5253 1)" font-size="24.27" letter-spacing="1.332">MAX</text><text transform="translate(541.12 236.60) scale(0.5482 1)" font-size="24.27" letter-spacing="1.277">12.0%</text><text transform="translate(73.57 264.90) scale(0.5016 1)" font-size="24.27" letter-spacing="1.395">ZINC,</text><text transform="translate(111.80 264.90) scale(0.5539 1)" font-size="24.27" letter-spacing="1.264">MIN</text><text transform="translate(508.59 264.90) scale(0.5029 1)" font-size="24.27" letter-spacing="1.392">120</text><text transform="translate(535.15 264.90) scale(0.6612 1)" font-size="24.27" letter-spacing="1.059">mg/kg</text><text transform="translate(73.75 293.20) scale(0.5208 1)" font-size="24.27" letter-spacing="1.344">VITAMIN</text><text transform="translate(132.55 293.20) scale(0.5824 1)" font-size="24.27" letter-spacing="1.202">A,</text><text transform="translate(150.31 293.20) scale(0.5466 1)" font-size="24.27" letter-spacing="1.281">MIN</text><text transform="translate(494.83 293.20) scale(0.5408 1)" font-size="24.27" letter-spacing="1.294">15,000</text><text transform="translate(543.05 293.20) scale(0.6312 1)" font-size="24.27" letter-spacing="1.109">IU/kg</text><text transform="translate(73.75 321.50) scale(0.5208 1)" font-size="24.27" letter-spacing="1.344">VITAMIN</text><text transform="translate(132.78 321.50) scale(0.5098 1)" font-size="24.27" letter-spacing="1.373">E,</text><text transform="translate(148.79 321.50) scale(0.5589 1)" font-size="24.27" letter-spacing="1.253">MIN</text><text transform="translate(515.58 321.50) scale(0.5857 1)" font-size="24.27" letter-spacing="1.195">200</text><text transform="translate(544.50 321.50) scale(0.6049 1)" font-size="24.27" letter-spacing="1.157">IU/kg</text><text transform="translate(73.46 349.80) scale(0.5042 1)" font-size="24.27" letter-spacing="1.388">TAURINE,</text><text transform="translate(138.59 349.80) scale(0.5589 1)" font-size="24.27" letter-spacing="1.253">MIN</text><text transform="translate(542.75 349.80) scale(0.5242 1)" font-size="24.27" letter-spacing="1.335">0.18%</text><text transform="translate(80.26 378.10) scale(0.5163 1)" font-size="24.27" letter-spacing="1.356">OMEGA-6</text><text transform="translate(147.21 378.10) scale(0.4961 1)" font-size="24.27" letter-spacing="1.411">FATTY</text><text transform="translate(190.65 378.10) scale(0.4601 1)" font-size="24.27" letter-spacing="1.521">ACIDS,</text><text transform="translate(236.06 378.10) scale(0.5736 1)" font-size="24.27" letter-spacing="1.220">MIN</text><text transform="translate(549.12 378.10) scale(0.5499 1)" font-size="24.27" letter-spacing="1.273">2.2%</text><text transform="translate(80.26 406.40) scale(0.5163 1)" font-size="24.27" letter-spacing="1.356">OMEGA-3</text><text transform="translate(147.21 406.40) scale(0.4961 1)" font-size="24.27" letter-spacing="1.411">FATTY</text><text transform="translate(189.35 406.40) scale(0.4601 1)" font-size="24.27" letter-spacing="1.521">ACIDS,</text><text transform="translate(234.59 406.40) scale(0.5613 1)" font-size="24.27" letter-spacing="1.247">MIN</text><text transform="translate(540.43 406.40) scale(0.5583 1)" font-size="24.27" letter-spacing="1.254">0.35%</text><text transform="translate(80.47 446.00) scale(0.5151 1)" font-size="24.27" letter-spacing="1.359">NOT</text><text transform="translate(112.00 446.00) scale(0.4507 1)" font-size="24.27" letter-spacing="1.553">RECOGNIZED</text><text transform="translate(196.25 446.00) scale(0.4655 1)" font-size="24.27" letter-spacing="1.504">AS</text><text transform="translate(216.75 446.00) scale(0.4946 1)" font-size="24.27" letter-spacing="1.415">AN</text><text transform="translate(237.72 446.00) scale(0.4899 1)" font-size="24.27" letter-spacing="1.429">ESSENTIAL</text><text transform="translate(311.43 446.00) scale(0.4842 1)" font-size="24.27" letter-spacing="1.446">NUTRIENT</text><text transform="translate(380.30 446.00) scale(0.4996 1)" font-size="24.27" letter-spacing="1.401">BY</text><text transform="translate(401.18 446.00) scale(0.4412 1)" font-size="24.27" letter-spacing="1.587">THE</text><text transform="translate(428.15 446.00) scale(0.4324 1)" font-size="24.27" letter-spacing="1.619">AAFCO</text><text transform="translate(471.59 446.00) scale(0.4934 1)" font-size="24.27" letter-spacing="1.419">CAT</text><text transform="translate(500.58 446.00) scale(0.4571 1)" font-size="24.27" letter-spacing="1.531">FOOD</text><text transform="translate(539.62 446.00) scale(0.4892 1)" font-size="24.27" letter-spacing="1.431">NUTRIENT</text><text transform="translate(73.45 474.40) scale(0.4768 1)" font-size="24.27" letter-spacing="1.468">PROFILES.</text><text transform="translate(73.53 548.20) scale(0.5525 1)" font-size="24.27" letter-spacing="1.267">3,497</text><text transform="translate(113.67 548.20) scale(0.5152 1)" font-size="24.27" letter-spacing="1.359">KCAL/KG</text><text transform="translate(175.53 548.20) scale(0.5420 1)" font-size="24.27" letter-spacing="1.291">(ME)</text><text transform="translate(73.54 576.50) scale(0.5406 1)" font-size="23.98" letter-spacing="1.295">357</text><text transform="translate(100.41 576.50) scale(0.5014 1)" font-size="23.98" letter-spacing="1.396">KCAL/CUP</text><text transform="translate(169.73 576.50) scale(0.5486 1)" font-size="23.98" letter-spacing="1.276">(ME)</text></g>
<g font-weight="normal" transform="translate(0.45 0)"><text transform="translate(73.22 151.70) scale(0.4694 1)" font-size="24.27" letter-spacing="1.491">CRUDE</text><text transform="translate(121.32 151.70) scale(0.4886 1)" font-size="24.27" letter-spacing="1.433">PROTEIN,</text><text transform="translate(187.13 151.70) scale(0.5367 1)" font-size="24.27" letter-spacing="1.304">MIN</text><text transform="translate(540.02 151.70) scale(0.5643 1)" font-size="24.27" letter-spacing="1.241">36.0%</text><text transform="translate(73.22 180.00) scale(0.4694 1)" font-size="24.27" letter-spacing="1.491">CRUDE</text><text transform="translate(121.27 180.00) scale(0.5157 1)" font-size="24.27" letter-spacing="1.357">FAT,</text><text transform="translate(151.50 180.00) scale(0.5515 1)" font-size="24.27" letter-spacing="1.269">MIN</text><text transform="translate(542.04 180.00) scale(0.5347 1)" font-size="24.27" letter-spacing="1.309">15.0%</text><text transform="translate(73.22 208.30) scale(0.4694 1)" font-size="24.27" letter-spacing="1.491">CRUDE</text><text transform="translate(121.30 208.30) scale(0.5019 1)" font-size="24.27" letter-spacing="1.395">FIBER,</text><text transform="translate(167.45 208.30) scale(0.5253 1)" font-size="24.27" letter-spacing="1.332">MAX</text><text transform="translate(548.54 208.30) scale(0.5606 1)" font-size="24.27" letter-spacing="1.249">4.5%</text><text transform="translate(73.02 236.60) scale(0.4895 1)" font-size="24.27" letter-spacing="1.430">MOISTURE,</text><text transform="translate(148.45 236.60) scale(0.5253 1)" font-size="24.27" letter-spacing="1.332">MAX</text><text transform="translate(541.12 236.60) scale(0.5482 1)" font-size="24.27" letter-spacing="1.277">12.0%</text><text transform="translate(73.57 264.90) scale(0.5016 1)" font-size="24.27" letter-spacing="1.395">ZINC,</text><text transform="translate(111.80 264.90) scale(0.5539 1)" font-size="24.27" letter-spacing="1.264">MIN</text><text transform="translate(508.59 264.90) scale(0.5029 1)" font-size="24.27" letter-spacing="1.392">120</text><text transform="translate(535.15 264.90) scale(0.6612 1)" font-size="24.27" letter-spacing="1.059">mg/kg</text><text transform="translate(73.75 293.20) scale(0.5208 1)" font-size="24.27" letter-spacing="1.344">VITAMIN</text><text transform="translate(132.55 293.20) scale(0.5824 1)" font-size="24.27" letter-spacing="1.202">A,</text><text transform="translate(150.31 293.20) scale(0.5466 1)" font-size="24.27" letter-spacing="1.281">MIN</text><text transform="translate(494.83 293.20) scale(0.5408 1)" font-size="24.27" letter-spacing="1.294">15,000</text><text transform="translate(543.05 293.20) scale(0.6312 1)" font-size="24.27" letter-spacing="1.109">IU/kg</text><text transform="translate(73.75 321.50) scale(0.5208 1)" font-size="24.27" letter-spacing="1.344">VITAMIN</text><text transform="translate(132.78 321.50) scale(0.5098 1)" font-size="24.27" letter-spacing="1.373">E,</text><text transform="translate(148.79 321.50) scale(0.5589 1)" font-size="24.27" letter-spacing="1.253">MIN</text><text transform="translate(515.58 321.50) scale(0.5857 1)" font-size="24.27" letter-spacing="1.195">200</text><text transform="translate(544.50 321.50) scale(0.6049 1)" font-size="24.27" letter-spacing="1.157">IU/kg</text><text transform="translate(73.46 349.80) scale(0.5042 1)" font-size="24.27" letter-spacing="1.388">TAURINE,</text><text transform="translate(138.59 349.80) scale(0.5589 1)" font-size="24.27" letter-spacing="1.253">MIN</text><text transform="translate(542.75 349.80) scale(0.5242 1)" font-size="24.27" letter-spacing="1.335">0.18%</text><text transform="translate(80.26 378.10) scale(0.5163 1)" font-size="24.27" letter-spacing="1.356">OMEGA-6</text><text transform="translate(147.21 378.10) scale(0.4961 1)" font-size="24.27" letter-spacing="1.411">FATTY</text><text transform="translate(190.65 378.10) scale(0.4601 1)" font-size="24.27" letter-spacing="1.521">ACIDS,</text><text transform="translate(236.06 378.10) scale(0.5736 1)" font-size="24.27" letter-spacing="1.220">MIN</text><text transform="translate(549.12 378.10) scale(0.5499 1)" font-size="24.27" letter-spacing="1.273">2.2%</text><text transform="translate(80.26 406.40) scale(0.5163 1)" font-size="24.27" letter-spacing="1.356">OMEGA-3</text><text transform="translate(147.21 406.40) scale(0.4961 1)" font-size="24.27" letter-spacing="1.411">FATTY</text><text transform="translate(189.35 406.40) scale(0.4601 1)" font-size="24.27" letter-spacing="1.521">ACIDS,</text><text transform="translate(234.59 406.40) scale(0.5613 1)" font-size="24.27" letter-spacing="1.247">MIN</text><text transform="translate(540.43 406.40) scale(0.5583 1)" font-size="24.27" letter-spacing="1.254">0.35%</text><text transform="translate(80.47 446.00) scale(0.5151 1)" font-size="24.27" letter-spacing="1.359">NOT</text><text transform="translate(112.00 446.00) scale(0.4507 1)" font-size="24.27" letter-spacing="1.553">RECOGNIZED</text><text transform="translate(196.25 446.00) scale(0.4655 1)" font-size="24.27" letter-spacing="1.504">AS</text><text transform="translate(216.75 446.00) scale(0.4946 1)" font-size="24.27" letter-spacing="1.415">AN</text><text transform="translate(237.72 446.00) scale(0.4899 1)" font-size="24.27" letter-spacing="1.429">ESSENTIAL</text><text transform="translate(311.43 446.00) scale(0.4842 1)" font-size="24.27" letter-spacing="1.446">NUTRIENT</text><text transform="translate(380.30 446.00) scale(0.4996 1)" font-size="24.27" letter-spacing="1.401">BY</text><text transform="translate(401.18 446.00) scale(0.4412 1)" font-size="24.27" letter-spacing="1.587">THE</text><text transform="translate(428.15 446.00) scale(0.4324 1)" font-size="24.27" letter-spacing="1.619">AAFCO</text><text transform="translate(471.59 446.00) scale(0.4934 1)" font-size="24.27" letter-spacing="1.419">CAT</text><text transform="translate(500.58 446.00) scale(0.4571 1)" font-size="24.27" letter-spacing="1.531">FOOD</text><text transform="translate(539.62 446.00) scale(0.4892 1)" font-size="24.27" letter-spacing="1.431">NUTRIENT</text><text transform="translate(73.45 474.40) scale(0.4768 1)" font-size="24.27" letter-spacing="1.468">PROFILES.</text><text transform="translate(73.53 548.20) scale(0.5525 1)" font-size="24.27" letter-spacing="1.267">3,497</text><text transform="translate(113.67 548.20) scale(0.5152 1)" font-size="24.27" letter-spacing="1.359">KCAL/KG</text><text transform="translate(175.53 548.20) scale(0.5420 1)" font-size="24.27" letter-spacing="1.291">(ME)</text><text transform="translate(73.54 576.50) scale(0.5406 1)" font-size="23.98" letter-spacing="1.295">357</text><text transform="translate(100.41 576.50) scale(0.5014 1)" font-size="23.98" letter-spacing="1.396">KCAL/CUP</text><text transform="translate(169.73 576.50) scale(0.5486 1)" font-size="23.98" letter-spacing="1.276">(ME)</text></g>
<g font-weight="normal" transform="translate(-0.45 0)"><text transform="translate(73.22 151.70) scale(0.4694 1)" font-size="24.27" letter-spacing="1.491">CRUDE</text><text transform="translate(121.32 151.70) scale(0.4886 1)" font-size="24.27" letter-spacing="1.433">PROTEIN,</text><text transform="translate(187.13 151.70) scale(0.5367 1)" font-size="24.27" letter-spacing="1.304">MIN</text><text transform="translate(540.02 151.70) scale(0.5643 1)" font-size="24.27" letter-spacing="1.241">36.0%</text><text transform="translate(73.22 180.00) scale(0.4694 1)" font-size="24.27" letter-spacing="1.491">CRUDE</text><text transform="translate(121.27 180.00) scale(0.5157 1)" font-size="24.27" letter-spacing="1.357">FAT,</text><text transform="translate(151.50 180.00) scale(0.5515 1)" font-size="24.27" letter-spacing="1.269">MIN</text><text transform="translate(542.04 180.00) scale(0.5347 1)" font-size="24.27" letter-spacing="1.309">15.0%</text><text transform="translate(73.22 208.30) scale(0.4694 1)" font-size="24.27" letter-spacing="1.491">CRUDE</text><text transform="translate(121.30 208.30) scale(0.5019 1)" font-size="24.27" letter-spacing="1.395">FIBER,</text><text transform="translate(167.45 208.30) scale(0.5253 1)" font-size="24.27" letter-spacing="1.332">MAX</text><text transform="translate(548.54 208.30) scale(0.5606 1)" font-size="24.27" letter-spacing="1.249">4.5%</text><text transform="translate(73.02 236.60) scale(0.4895 1)" font-size="24.27" letter-spacing="1.430">MOISTURE,</text><text transform="translate(148.45 236.60) scale(0.5253 1)" font-size="24.27" letter-spacing="1.332">MAX</text><text transform="translate(541.12 236.60) scale(0.5482 1)" font-size="24.27" letter-spacing="1.277">12.0%</text><text transform="translate(73.57 264.90) scale(0.5016 1)" font-size="24.27" letter-spacing="1.395">ZINC,</text><text transform="translate(111.80 264.90) scale(0.5539 1)" font-size="24.27" letter-spacing="1.264">MIN</text><text transform="translate(508.59 264.90) scale(0.5029 1)" font-size="24.27" letter-spacing="1.392">120</text><text transform="translate(535.15 264.90) scale(0.6612 1)" font-size="24.27" letter-spacing="1.059">mg/kg</text><text transform="translate(73.75 293.20) scale(0.5208 1)" font-size="24.27" letter-spacing="1.344">VITAMIN</text><text transform="translate(132.55 293.20) scale(0.5824 1)" font-size="24.27" letter-spacing="1.202">A,</text><text transform="translate(150.31 293.20) scale(0.5466 1)" font-size="24.27" letter-spacing="1.281">MIN</text><text transform="translate(494.83 293.20) scale(0.5408 1)" font-size="24.27" letter-spacing="1.294">15,000</text><text transform="translate(543.05 293.20) scale(0.6312 1)" font-size="24.27" letter-spacing="1.109">IU/kg</text><text transform="translate(73.75 321.50) scale(0.5208 1)" font-size="24.27" letter-spacing="1.344">VITAMIN</text><text transform="translate(132.78 321.50) scale(0.5098 1)" font-size="24.27" letter-spacing="1.373">E,</text><text transform="translate(148.79 321.50) scale(0.5589 1)" font-size="24.27" letter-spacing="1.253">MIN</text><text transform="translate(515.58 321.50) scale(0.5857 1)" font-size="24.27" letter-spacing="1.195">200</text><text transform="translate(544.50 321.50) scale(0.6049 1)" font-size="24.27" letter-spacing="1.157">IU/kg</text><text transform="translate(73.46 349.80) scale(0.5042 1)" font-size="24.27" letter-spacing="1.388">TAURINE,</text><text transform="translate(138.59 349.80) scale(0.5589 1)" font-size="24.27" letter-spacing="1.253">MIN</text><text transform="translate(542.75 349.80) scale(0.5242 1)" font-size="24.27" letter-spacing="1.335">0.18%</text><text transform="translate(80.26 378.10) scale(0.5163 1)" font-size="24.27" letter-spacing="1.356">OMEGA-6</text><text transform="translate(147.21 378.10) scale(0.4961 1)" font-size="24.27" letter-spacing="1.411">FATTY</text><text transform="translate(190.65 378.10) scale(0.4601 1)" font-size="24.27" letter-spacing="1.521">ACIDS,</text><text transform="translate(236.06 378.10) scale(0.5736 1)" font-size="24.27" letter-spacing="1.220">MIN</text><text transform="translate(549.12 378.10) scale(0.5499 1)" font-size="24.27" letter-spacing="1.273">2.2%</text><text transform="translate(80.26 406.40) scale(0.5163 1)" font-size="24.27" letter-spacing="1.356">OMEGA-3</text><text transform="translate(147.21 406.40) scale(0.4961 1)" font-size="24.27" letter-spacing="1.411">FATTY</text><text transform="translate(189.35 406.40) scale(0.4601 1)" font-size="24.27" letter-spacing="1.521">ACIDS,</text><text transform="translate(234.59 406.40) scale(0.5613 1)" font-size="24.27" letter-spacing="1.247">MIN</text><text transform="translate(540.43 406.40) scale(0.5583 1)" font-size="24.27" letter-spacing="1.254">0.35%</text><text transform="translate(80.47 446.00) scale(0.5151 1)" font-size="24.27" letter-spacing="1.359">NOT</text><text transform="translate(112.00 446.00) scale(0.4507 1)" font-size="24.27" letter-spacing="1.553">RECOGNIZED</text><text transform="translate(196.25 446.00) scale(0.4655 1)" font-size="24.27" letter-spacing="1.504">AS</text><text transform="translate(216.75 446.00) scale(0.4946 1)" font-size="24.27" letter-spacing="1.415">AN</text><text transform="translate(237.72 446.00) scale(0.4899 1)" font-size="24.27" letter-spacing="1.429">ESSENTIAL</text><text transform="translate(311.43 446.00) scale(0.4842 1)" font-size="24.27" letter-spacing="1.446">NUTRIENT</text><text transform="translate(380.30 446.00) scale(0.4996 1)" font-size="24.27" letter-spacing="1.401">BY</text><text transform="translate(401.18 446.00) scale(0.4412 1)" font-size="24.27" letter-spacing="1.587">THE</text><text transform="translate(428.15 446.00) scale(0.4324 1)" font-size="24.27" letter-spacing="1.619">AAFCO</text><text transform="translate(471.59 446.00) scale(0.4934 1)" font-size="24.27" letter-spacing="1.419">CAT</text><text transform="translate(500.58 446.00) scale(0.4571 1)" font-size="24.27" letter-spacing="1.531">FOOD</text><text transform="translate(539.62 446.00) scale(0.4892 1)" font-size="24.27" letter-spacing="1.431">NUTRIENT</text><text transform="translate(73.45 474.40) scale(0.4768 1)" font-size="24.27" letter-spacing="1.468">PROFILES.</text><text transform="translate(73.53 548.20) scale(0.5525 1)" font-size="24.27" letter-spacing="1.267">3,497</text><text transform="translate(113.67 548.20) scale(0.5152 1)" font-size="24.27" letter-spacing="1.359">KCAL/KG</text><text transform="translate(175.53 548.20) scale(0.5420 1)" font-size="24.27" letter-spacing="1.291">(ME)</text><text transform="translate(73.54 576.50) scale(0.5406 1)" font-size="23.98" letter-spacing="1.295">357</text><text transform="translate(100.41 576.50) scale(0.5014 1)" font-size="23.98" letter-spacing="1.396">KCAL/CUP</text><text transform="translate(169.73 576.50) scale(0.5486 1)" font-size="23.98" letter-spacing="1.276">(ME)</text></g>
<g font-weight="bold"><text transform="translate(73.51 520.00) scale(0.4489 1)" font-size="24.42" letter-spacing="2.005">CALORIE</text><text transform="translate(132.71 520.00) scale(0.4496 1)" font-size="24.42" letter-spacing="2.002">CONTENT</text><text transform="translate(197.41 520.00) scale(0.4698 1)" font-size="24.42" letter-spacing="1.916">(CALCULATED):</text></g>
<g font-weight="bold" transform="translate(0.12 0)"><text transform="translate(73.51 520.00) scale(0.4489 1)" font-size="24.42" letter-spacing="2.005">CALORIE</text><text transform="translate(132.71 520.00) scale(0.4496 1)" font-size="24.42" letter-spacing="2.002">CONTENT</text><text transform="translate(197.41 520.00) scale(0.4698 1)" font-size="24.42" letter-spacing="1.916">(CALCULATED):</text></g>
<g font-weight="bold" transform="translate(-0.12 0)"><text transform="translate(73.51 520.00) scale(0.4489 1)" font-size="24.42" letter-spacing="2.005">CALORIE</text><text transform="translate(132.71 520.00) scale(0.4496 1)" font-size="24.42" letter-spacing="2.002">CONTENT</text><text transform="translate(197.41 520.00) scale(0.4698 1)" font-size="24.42" letter-spacing="1.916">(CALCULATED):</text></g>
<g font-weight="bold" transform="translate(0.23 0)"><text transform="translate(73.51 520.00) scale(0.4489 1)" font-size="24.42" letter-spacing="2.005">CALORIE</text><text transform="translate(132.71 520.00) scale(0.4496 1)" font-size="24.42" letter-spacing="2.002">CONTENT</text><text transform="translate(197.41 520.00) scale(0.4698 1)" font-size="24.42" letter-spacing="1.916">(CALCULATED):</text></g>
<g font-weight="bold" transform="translate(-0.23 0)"><text transform="translate(73.51 520.00) scale(0.4489 1)" font-size="24.42" letter-spacing="2.005">CALORIE</text><text transform="translate(132.71 520.00) scale(0.4496 1)" font-size="24.42" letter-spacing="2.002">CONTENT</text><text transform="translate(197.41 520.00) scale(0.4698 1)" font-size="24.42" letter-spacing="1.916">(CALCULATED):</text></g>
<g font-weight="bold" transform="translate(0.35 0)"><text transform="translate(73.51 520.00) scale(0.4489 1)" font-size="24.42" letter-spacing="2.005">CALORIE</text><text transform="translate(132.71 520.00) scale(0.4496 1)" font-size="24.42" letter-spacing="2.002">CONTENT</text><text transform="translate(197.41 520.00) scale(0.4698 1)" font-size="24.42" letter-spacing="1.916">(CALCULATED):</text></g>
<g font-weight="bold" transform="translate(-0.35 0)"><text transform="translate(73.51 520.00) scale(0.4489 1)" font-size="24.42" letter-spacing="2.005">CALORIE</text><text transform="translate(132.71 520.00) scale(0.4496 1)" font-size="24.42" letter-spacing="2.002">CONTENT</text><text transform="translate(197.41 520.00) scale(0.4698 1)" font-size="24.42" letter-spacing="1.916">(CALCULATED):</text></g></g>
<g fill="#fff"><rect x="214.00" y="148.40" width="3.3" height="3.3"/><rect x="218.67" y="148.40" width="3.3" height="3.3"/><rect x="223.34" y="148.40" width="3.3" height="3.3"/><rect x="228.00" y="148.40" width="3.3" height="3.3"/><rect x="232.67" y="148.40" width="3.3" height="3.3"/><rect x="237.34" y="148.40" width="3.3" height="3.3"/><rect x="242.01" y="148.40" width="3.3" height="3.3"/><rect x="246.67" y="148.40" width="3.3" height="3.3"/><rect x="251.34" y="148.40" width="3.3" height="3.3"/><rect x="256.01" y="148.40" width="3.3" height="3.3"/><rect x="260.68" y="148.40" width="3.3" height="3.3"/><rect x="265.34" y="148.40" width="3.3" height="3.3"/><rect x="270.01" y="148.40" width="3.3" height="3.3"/><rect x="274.68" y="148.40" width="3.3" height="3.3"/><rect x="279.35" y="148.40" width="3.3" height="3.3"/><rect x="284.01" y="148.40" width="3.3" height="3.3"/><rect x="288.68" y="148.40" width="3.3" height="3.3"/><rect x="293.35" y="148.40" width="3.3" height="3.3"/><rect x="298.02" y="148.40" width="3.3" height="3.3"/><rect x="302.69" y="148.40" width="3.3" height="3.3"/><rect x="307.35" y="148.40" width="3.3" height="3.3"/><rect x="312.02" y="148.40" width="3.3" height="3.3"/><rect x="316.69" y="148.40" width="3.3" height="3.3"/><rect x="321.36" y="148.40" width="3.3" height="3.3"/><rect x="326.02" y="148.40" width="3.3" height="3.3"/><rect x="330.69" y="148.40" width="3.3" height="3.3"/><rect x="335.36" y="148.40" width="3.3" height="3.3"/><rect x="340.03" y="148.40" width="3.3" height="3.3"/><rect x="344.69" y="148.40" width="3.3" height="3.3"/><rect x="349.36" y="148.40" width="3.3" height="3.3"/><rect x="354.03" y="148.40" width="3.3" height="3.3"/><rect x="358.70" y="148.40" width="3.3" height="3.3"/><rect x="363.36" y="148.40" width="3.3" height="3.3"/><rect x="368.03" y="148.40" width="3.3" height="3.3"/><rect x="372.70" y="148.40" width="3.3" height="3.3"/><rect x="377.37" y="148.40" width="3.3" height="3.3"/><rect x="382.04" y="148.40" width="3.3" height="3.3"/><rect x="386.70" y="148.40" width="3.3" height="3.3"/><rect x="391.37" y="148.40" width="3.3" height="3.3"/><rect x="396.04" y="148.40" width="3.3" height="3.3"/><rect x="400.71" y="148.40" width="3.3" height="3.3"/><rect x="405.37" y="148.40" width="3.3" height="3.3"/><rect x="410.04" y="148.40" width="3.3" height="3.3"/><rect x="414.71" y="148.40" width="3.3" height="3.3"/><rect x="419.38" y="148.40" width="3.3" height="3.3"/><rect x="424.04" y="148.40" width="3.3" height="3.3"/><rect x="428.71" y="148.40" width="3.3" height="3.3"/><rect x="433.38" y="148.40" width="3.3" height="3.3"/><rect x="438.05" y="148.40" width="3.3" height="3.3"/><rect x="442.71" y="148.40" width="3.3" height="3.3"/><rect x="447.38" y="148.40" width="3.3" height="3.3"/><rect x="452.05" y="148.40" width="3.3" height="3.3"/><rect x="456.72" y="148.40" width="3.3" height="3.3"/><rect x="461.39" y="148.40" width="3.3" height="3.3"/><rect x="466.05" y="148.40" width="3.3" height="3.3"/><rect x="470.72" y="148.40" width="3.3" height="3.3"/><rect x="475.39" y="148.40" width="3.3" height="3.3"/><rect x="480.06" y="148.40" width="3.3" height="3.3"/><rect x="484.72" y="148.40" width="3.3" height="3.3"/><rect x="489.39" y="148.40" width="3.3" height="3.3"/><rect x="494.06" y="148.40" width="3.3" height="3.3"/><rect x="498.73" y="148.40" width="3.3" height="3.3"/><rect x="503.39" y="148.40" width="3.3" height="3.3"/><rect x="508.06" y="148.40" width="3.3" height="3.3"/><rect x="512.73" y="148.40" width="3.3" height="3.3"/><rect x="517.40" y="148.40" width="3.3" height="3.3"/><rect x="522.06" y="148.40" width="3.3" height="3.3"/><rect x="526.73" y="148.40" width="3.3" height="3.3"/><rect x="531.40" y="148.40" width="3.3" height="3.3"/><rect x="185.30" y="176.70" width="3.3" height="3.3"/><rect x="189.98" y="176.70" width="3.3" height="3.3"/><rect x="194.65" y="176.70" width="3.3" height="3.3"/><rect x="199.33" y="176.70" width="3.3" height="3.3"/><rect x="204.01" y="176.70" width="3.3" height="3.3"/><rect x="208.69" y="176.70" width="3.3" height="3.3"/><rect x="213.36" y="176.70" width="3.3" height="3.3"/><rect x="218.04" y="176.70" width="3.3" height="3.3"/><rect x="222.72" y="176.70" width="3.3" height="3.3"/><rect x="227.39" y="176.70" width="3.3" height="3.3"/><rect x="232.07" y="176.70" width="3.3" height="3.3"/><rect x="236.75" y="176.70" width="3.3" height="3.3"/><rect x="241.42" y="176.70" width="3.3" height="3.3"/><rect x="246.10" y="176.70" width="3.3" height="3.3"/><rect x="250.78" y="176.70" width="3.3" height="3.3"/><rect x="255.46" y="176.70" width="3.3" height="3.3"/><rect x="260.13" y="176.70" width="3.3" height="3.3"/><rect x="264.81" y="176.70" width="3.3" height="3.3"/><rect x="269.49" y="176.70" width="3.3" height="3.3"/><rect x="274.16" y="176.70" width="3.3" height="3.3"/><rect x="278.84" y="176.70" width="3.3" height="3.3"/><rect x="283.52" y="176.70" width="3.3" height="3.3"/><rect x="288.19" y="176.70" width="3.3" height="3.3"/><rect x="292.87" y="176.70" width="3.3" height="3.3"/><rect x="297.55" y="176.70" width="3.3" height="3.3"/><rect x="302.23" y="176.70" width="3.3" height="3.3"/><rect x="306.90" y="176.70" width="3.3" height="3.3"/><rect x="311.58" y="176.70" width="3.3" height="3.3"/><rect x="316.26" y="176.70" width="3.3" height="3.3"/><rect x="320.93" y="176.70" width="3.3" height="3.3"/><rect x="325.61" y="176.70" width="3.3" height="3.3"/><rect x="330.29" y="176.70" width="3.3" height="3.3"/><rect x="334.96" y="176.70" width="3.3" height="3.3"/><rect x="339.64" y="176.70" width="3.3" height="3.3"/><rect x="344.32" y="176.70" width="3.3" height="3.3"/><rect x="349.00" y="176.70" width="3.3" height="3.3"/><rect x="353.67" y="176.70" width="3.3" height="3.3"/><rect x="358.35" y="176.70" width="3.3" height="3.3"/><rect x="363.03" y="176.70" width="3.3" height="3.3"/><rect x="367.70" y="176.70" width="3.3" height="3.3"/><rect x="372.38" y="176.70" width="3.3" height="3.3"/><rect x="377.06" y="176.70" width="3.3" height="3.3"/><rect x="381.74" y="176.70" width="3.3" height="3.3"/><rect x="386.41" y="176.70" width="3.3" height="3.3"/><rect x="391.09" y="176.70" width="3.3" height="3.3"/><rect x="395.77" y="176.70" width="3.3" height="3.3"/><rect x="400.44" y="176.70" width="3.3" height="3.3"/><rect x="405.12" y="176.70" width="3.3" height="3.3"/><rect x="409.80" y="176.70" width="3.3" height="3.3"/><rect x="414.47" y="176.70" width="3.3" height="3.3"/><rect x="419.15" y="176.70" width="3.3" height="3.3"/><rect x="423.83" y="176.70" width="3.3" height="3.3"/><rect x="428.51" y="176.70" width="3.3" height="3.3"/><rect x="433.18" y="176.70" width="3.3" height="3.3"/><rect x="437.86" y="176.70" width="3.3" height="3.3"/><rect x="442.54" y="176.70" width="3.3" height="3.3"/><rect x="447.21" y="176.70" width="3.3" height="3.3"/><rect x="451.89" y="176.70" width="3.3" height="3.3"/><rect x="456.57" y="176.70" width="3.3" height="3.3"/><rect x="461.24" y="176.70" width="3.3" height="3.3"/><rect x="465.92" y="176.70" width="3.3" height="3.3"/><rect x="470.60" y="176.70" width="3.3" height="3.3"/><rect x="475.28" y="176.70" width="3.3" height="3.3"/><rect x="479.95" y="176.70" width="3.3" height="3.3"/><rect x="484.63" y="176.70" width="3.3" height="3.3"/><rect x="489.31" y="176.70" width="3.3" height="3.3"/><rect x="493.98" y="176.70" width="3.3" height="3.3"/><rect x="498.66" y="176.70" width="3.3" height="3.3"/><rect x="503.34" y="176.70" width="3.3" height="3.3"/><rect x="508.01" y="176.70" width="3.3" height="3.3"/><rect x="512.69" y="176.70" width="3.3" height="3.3"/><rect x="517.37" y="176.70" width="3.3" height="3.3"/><rect x="522.05" y="176.70" width="3.3" height="3.3"/><rect x="526.72" y="176.70" width="3.3" height="3.3"/><rect x="531.40" y="176.70" width="3.3" height="3.3"/><rect x="200.00" y="205.00" width="3.3" height="3.3"/><rect x="204.67" y="205.00" width="3.3" height="3.3"/><rect x="209.34" y="205.00" width="3.3" height="3.3"/><rect x="214.00" y="205.00" width="3.3" height="3.3"/><rect x="218.67" y="205.00" width="3.3" height="3.3"/><rect x="223.34" y="205.00" width="3.3" height="3.3"/><rect x="228.01" y="205.00" width="3.3" height="3.3"/><rect x="232.67" y="205.00" width="3.3" height="3.3"/><rect x="237.34" y="205.00" width="3.3" height="3.3"/><rect x="242.01" y="205.00" width="3.3" height="3.3"/><rect x="246.68" y="205.00" width="3.3" height="3.3"/><rect x="251.34" y="205.00" width="3.3" height="3.3"/><rect x="256.01" y="205.00" width="3.3" height="3.3"/><rect x="260.68" y="205.00" width="3.3" height="3.3"/><rect x="265.35" y="205.00" width="3.3" height="3.3"/><rect x="270.01" y="205.00" width="3.3" height="3.3"/><rect x="274.68" y="205.00" width="3.3" height="3.3"/><rect x="279.35" y="205.00" width="3.3" height="3.3"/><rect x="284.02" y="205.00" width="3.3" height="3.3"/><rect x="288.68" y="205.00" width="3.3" height="3.3"/><rect x="293.35" y="205.00" width="3.3" height="3.3"/><rect x="298.02" y="205.00" width="3.3" height="3.3"/><rect x="302.69" y="205.00" width="3.3" height="3.3"/><rect x="307.35" y="205.00" width="3.3" height="3.3"/><rect x="312.02" y="205.00" width="3.3" height="3.3"/><rect x="316.69" y="205.00" width="3.3" height="3.3"/><rect x="321.36" y="205.00" width="3.3" height="3.3"/><rect x="326.03" y="205.00" width="3.3" height="3.3"/><rect x="330.69" y="205.00" width="3.3" height="3.3"/><rect x="335.36" y="205.00" width="3.3" height="3.3"/><rect x="340.03" y="205.00" width="3.3" height="3.3"/><rect x="344.70" y="205.00" width="3.3" height="3.3"/><rect x="349.36" y="205.00" width="3.3" height="3.3"/><rect x="354.03" y="205.00" width="3.3" height="3.3"/><rect x="358.70" y="205.00" width="3.3" height="3.3"/><rect x="363.37" y="205.00" width="3.3" height="3.3"/><rect x="368.03" y="205.00" width="3.3" height="3.3"/><rect x="372.70" y="205.00" width="3.3" height="3.3"/><rect x="377.37" y="205.00" width="3.3" height="3.3"/><rect x="382.04" y="205.00" width="3.3" height="3.3"/><rect x="386.70" y="205.00" width="3.3" height="3.3"/><rect x="391.37" y="205.00" width="3.3" height="3.3"/><rect x="396.04" y="205.00" width="3.3" height="3.3"/><rect x="400.71" y="205.00" width="3.3" height="3.3"/><rect x="405.37" y="205.00" width="3.3" height="3.3"/><rect x="410.04" y="205.00" width="3.3" height="3.3"/><rect x="414.71" y="205.00" width="3.3" height="3.3"/><rect x="419.38" y="205.00" width="3.3" height="3.3"/><rect x="424.05" y="205.00" width="3.3" height="3.3"/><rect x="428.71" y="205.00" width="3.3" height="3.3"/><rect x="433.38" y="205.00" width="3.3" height="3.3"/><rect x="438.05" y="205.00" width="3.3" height="3.3"/><rect x="442.72" y="205.00" width="3.3" height="3.3"/><rect x="447.38" y="205.00" width="3.3" height="3.3"/><rect x="452.05" y="205.00" width="3.3" height="3.3"/><rect x="456.72" y="205.00" width="3.3" height="3.3"/><rect x="461.39" y="205.00" width="3.3" height="3.3"/><rect x="466.05" y="205.00" width="3.3" height="3.3"/><rect x="470.72" y="205.00" width="3.3" height="3.3"/><rect x="475.39" y="205.00" width="3.3" height="3.3"/><rect x="480.06" y="205.00" width="3.3" height="3.3"/><rect x="484.72" y="205.00" width="3.3" height="3.3"/><rect x="489.39" y="205.00" width="3.3" height="3.3"/><rect x="494.06" y="205.00" width="3.3" height="3.3"/><rect x="498.73" y="205.00" width="3.3" height="3.3"/><rect x="503.39" y="205.00" width="3.3" height="3.3"/><rect x="508.06" y="205.00" width="3.3" height="3.3"/><rect x="512.73" y="205.00" width="3.3" height="3.3"/><rect x="517.40" y="205.00" width="3.3" height="3.3"/><rect x="522.06" y="205.00" width="3.3" height="3.3"/><rect x="526.73" y="205.00" width="3.3" height="3.3"/><rect x="531.40" y="205.00" width="3.3" height="3.3"/><rect x="186.10" y="233.30" width="3.3" height="3.3"/><rect x="190.77" y="233.30" width="3.3" height="3.3"/><rect x="195.43" y="233.30" width="3.3" height="3.3"/><rect x="200.10" y="233.30" width="3.3" height="3.3"/><rect x="204.76" y="233.30" width="3.3" height="3.3"/><rect x="209.43" y="233.30" width="3.3" height="3.3"/><rect x="214.10" y="233.30" width="3.3" height="3.3"/><rect x="218.76" y="233.30" width="3.3" height="3.3"/><rect x="223.43" y="233.30" width="3.3" height="3.3"/><rect x="228.10" y="233.30" width="3.3" height="3.3"/><rect x="232.76" y="233.30" width="3.3" height="3.3"/><rect x="237.43" y="233.30" width="3.3" height="3.3"/><rect x="242.09" y="233.30" width="3.3" height="3.3"/><rect x="246.76" y="233.30" width="3.3" height="3.3"/><rect x="251.43" y="233.30" width="3.3" height="3.3"/><rect x="256.09" y="233.30" width="3.3" height="3.3"/><rect x="260.76" y="233.30" width="3.3" height="3.3"/><rect x="265.43" y="233.30" width="3.3" height="3.3"/><rect x="270.09" y="233.30" width="3.3" height="3.3"/><rect x="274.76" y="233.30" width="3.3" height="3.3"/><rect x="279.42" y="233.30" width="3.3" height="3.3"/><rect x="284.09" y="233.30" width="3.3" height="3.3"/><rect x="288.76" y="233.30" width="3.3" height="3.3"/><rect x="293.42" y="233.30" width="3.3" height="3.3"/><rect x="298.09" y="233.30" width="3.3" height="3.3"/><rect x="302.76" y="233.30" width="3.3" height="3.3"/><rect x="307.42" y="233.30" width="3.3" height="3.3"/><rect x="312.09" y="233.30" width="3.3" height="3.3"/><rect x="316.75" y="233.30" width="3.3" height="3.3"/><rect x="321.42" y="233.30" width="3.3" height="3.3"/><rect x="326.09" y="233.30" width="3.3" height="3.3"/><rect x="330.75" y="233.30" width="3.3" height="3.3"/><rect x="335.42" y="233.30" width="3.3" height="3.3"/><rect x="340.09" y="233.30" width="3.3" height="3.3"/><rect x="344.75" y="233.30" width="3.3" height="3.3"/><rect x="349.42" y="233.30" width="3.3" height="3.3"/><rect x="354.08" y="233.30" width="3.3" height="3.3"/><rect x="358.75" y="233.30" width="3.3" height="3.3"/><rect x="363.42" y="233.30" width="3.3" height="3.3"/><rect x="368.08" y="233.30" width="3.3" height="3.3"/><rect x="372.75" y="233.30" width="3.3" height="3.3"/><rect x="377.41" y="233.30" width="3.3" height="3.3"/><rect x="382.08" y="233.30" width="3.3" height="3.3"/><rect x="386.75" y="233.30" width="3.3" height="3.3"/><rect x="391.41" y="233.30" width="3.3" height="3.3"/><rect x="396.08" y="233.30" width="3.3" height="3.3"/><rect x="400.75" y="233.30" width="3.3" height="3.3"/><rect x="405.41" y="233.30" width="3.3" height="3.3"/><rect x="410.08" y="233.30" width="3.3" height="3.3"/><rect x="414.74" y="233.30" width="3.3" height="3.3"/><rect x="419.41" y="233.30" width="3.3" height="3.3"/><rect x="424.08" y="233.30" width="3.3" height="3.3"/><rect x="428.74" y="233.30" width="3.3" height="3.3"/><rect x="433.41" y="233.30" width="3.3" height="3.3"/><rect x="438.08" y="233.30" width="3.3" height="3.3"/><rect x="442.74" y="233.30" width="3.3" height="3.3"/><rect x="447.41" y="233.30" width="3.3" height="3.3"/><rect x="452.07" y="233.30" width="3.3" height="3.3"/><rect x="456.74" y="233.30" width="3.3" height="3.3"/><rect x="461.41" y="233.30" width="3.3" height="3.3"/><rect x="466.07" y="233.30" width="3.3" height="3.3"/><rect x="470.74" y="233.30" width="3.3" height="3.3"/><rect x="475.41" y="233.30" width="3.3" height="3.3"/><rect x="480.07" y="233.30" width="3.3" height="3.3"/><rect x="484.74" y="233.30" width="3.3" height="3.3"/><rect x="489.40" y="233.30" width="3.3" height="3.3"/><rect x="494.07" y="233.30" width="3.3" height="3.3"/><rect x="498.74" y="233.30" width="3.3" height="3.3"/><rect x="503.40" y="233.30" width="3.3" height="3.3"/><rect x="508.07" y="233.30" width="3.3" height="3.3"/><rect x="512.74" y="233.30" width="3.3" height="3.3"/><rect x="517.40" y="233.30" width="3.3" height="3.3"/><rect x="522.07" y="233.30" width="3.3" height="3.3"/><rect x="526.73" y="233.30" width="3.3" height="3.3"/><rect x="531.40" y="233.30" width="3.3" height="3.3"/><rect x="144.10" y="261.60" width="3.3" height="3.3"/><rect x="148.77" y="261.60" width="3.3" height="3.3"/><rect x="153.43" y="261.60" width="3.3" height="3.3"/><rect x="158.10" y="261.60" width="3.3" height="3.3"/><rect x="162.76" y="261.60" width="3.3" height="3.3"/><rect x="167.43" y="261.60" width="3.3" height="3.3"/><rect x="172.10" y="261.60" width="3.3" height="3.3"/><rect x="176.76" y="261.60" width="3.3" height="3.3"/><rect x="181.43" y="261.60" width="3.3" height="3.3"/><rect x="186.10" y="261.60" width="3.3" height="3.3"/><rect x="190.76" y="261.60" width="3.3" height="3.3"/><rect x="195.43" y="261.60" width="3.3" height="3.3"/><rect x="200.09" y="261.60" width="3.3" height="3.3"/><rect x="204.76" y="261.60" width="3.3" height="3.3"/><rect x="209.43" y="261.60" width="3.3" height="3.3"/><rect x="214.09" y="261.60" width="3.3" height="3.3"/><rect x="218.76" y="261.60" width="3.3" height="3.3"/><rect x="223.43" y="261.60" width="3.3" height="3.3"/><rect x="228.09" y="261.60" width="3.3" height="3.3"/><rect x="232.76" y="261.60" width="3.3" height="3.3"/><rect x="237.42" y="261.60" width="3.3" height="3.3"/><rect x="242.09" y="261.60" width="3.3" height="3.3"/><rect x="246.76" y="261.60" width="3.3" height="3.3"/><rect x="251.42" y="261.60" width="3.3" height="3.3"/><rect x="256.09" y="261.60" width="3.3" height="3.3"/><rect x="260.76" y="261.60" width="3.3" height="3.3"/><rect x="265.42" y="261.60" width="3.3" height="3.3"/><rect x="270.09" y="261.60" width="3.3" height="3.3"/><rect x="274.75" y="261.60" width="3.3" height="3.3"/><rect x="279.42" y="261.60" width="3.3" height="3.3"/><rect x="284.09" y="261.60" width="3.3" height="3.3"/><rect x="288.75" y="261.60" width="3.3" height="3.3"/><rect x="293.42" y="261.60" width="3.3" height="3.3"/><rect x="298.09" y="261.60" width="3.3" height="3.3"/><rect x="302.75" y="261.60" width="3.3" height="3.3"/><rect x="307.42" y="261.60" width="3.3" height="3.3"/><rect x="312.08" y="261.60" width="3.3" height="3.3"/><rect x="316.75" y="261.60" width="3.3" height="3.3"/><rect x="321.42" y="261.60" width="3.3" height="3.3"/><rect x="326.08" y="261.60" width="3.3" height="3.3"/><rect x="330.75" y="261.60" width="3.3" height="3.3"/><rect x="335.42" y="261.60" width="3.3" height="3.3"/><rect x="340.08" y="261.60" width="3.3" height="3.3"/><rect x="344.75" y="261.60" width="3.3" height="3.3"/><rect x="349.41" y="261.60" width="3.3" height="3.3"/><rect x="354.08" y="261.60" width="3.3" height="3.3"/><rect x="358.75" y="261.60" width="3.3" height="3.3"/><rect x="363.41" y="261.60" width="3.3" height="3.3"/><rect x="368.08" y="261.60" width="3.3" height="3.3"/><rect x="372.75" y="261.60" width="3.3" height="3.3"/><rect x="377.41" y="261.60" width="3.3" height="3.3"/><rect x="382.08" y="261.60" width="3.3" height="3.3"/><rect x="386.74" y="261.60" width="3.3" height="3.3"/><rect x="391.41" y="261.60" width="3.3" height="3.3"/><rect x="396.08" y="261.60" width="3.3" height="3.3"/><rect x="400.74" y="261.60" width="3.3" height="3.3"/><rect x="405.41" y="261.60" width="3.3" height="3.3"/><rect x="410.08" y="261.60" width="3.3" height="3.3"/><rect x="414.74" y="261.60" width="3.3" height="3.3"/><rect x="419.41" y="261.60" width="3.3" height="3.3"/><rect x="424.07" y="261.60" width="3.3" height="3.3"/><rect x="428.74" y="261.60" width="3.3" height="3.3"/><rect x="433.41" y="261.60" width="3.3" height="3.3"/><rect x="438.07" y="261.60" width="3.3" height="3.3"/><rect x="442.74" y="261.60" width="3.3" height="3.3"/><rect x="447.41" y="261.60" width="3.3" height="3.3"/><rect x="452.07" y="261.60" width="3.3" height="3.3"/><rect x="456.74" y="261.60" width="3.3" height="3.3"/><rect x="461.40" y="261.60" width="3.3" height="3.3"/><rect x="466.07" y="261.60" width="3.3" height="3.3"/><rect x="470.74" y="261.60" width="3.3" height="3.3"/><rect x="475.40" y="261.60" width="3.3" height="3.3"/><rect x="480.07" y="261.60" width="3.3" height="3.3"/><rect x="484.74" y="261.60" width="3.3" height="3.3"/><rect x="489.40" y="261.60" width="3.3" height="3.3"/><rect x="494.07" y="261.60" width="3.3" height="3.3"/><rect x="498.73" y="261.60" width="3.3" height="3.3"/><rect x="503.40" y="261.60" width="3.3" height="3.3"/><rect x="186.00" y="289.90" width="3.3" height="3.3"/><rect x="190.67" y="289.90" width="3.3" height="3.3"/><rect x="195.34" y="289.90" width="3.3" height="3.3"/><rect x="200.02" y="289.90" width="3.3" height="3.3"/><rect x="204.69" y="289.90" width="3.3" height="3.3"/><rect x="209.36" y="289.90" width="3.3" height="3.3"/><rect x="214.03" y="289.90" width="3.3" height="3.3"/><rect x="218.71" y="289.90" width="3.3" height="3.3"/><rect x="223.38" y="289.90" width="3.3" height="3.3"/><rect x="228.05" y="289.90" width="3.3" height="3.3"/><rect x="232.72" y="289.90" width="3.3" height="3.3"/><rect x="237.40" y="289.90" width="3.3" height="3.3"/><rect x="242.07" y="289.90" width="3.3" height="3.3"/><rect x="246.74" y="289.90" width="3.3" height="3.3"/><rect x="251.41" y="289.90" width="3.3" height="3.3"/><rect x="256.08" y="289.90" width="3.3" height="3.3"/><rect x="260.76" y="289.90" width="3.3" height="3.3"/><rect x="265.43" y="289.90" width="3.3" height="3.3"/><rect x="270.10" y="289.90" width="3.3" height="3.3"/><rect x="274.77" y="289.90" width="3.3" height="3.3"/><rect x="279.45" y="289.90" width="3.3" height="3.3"/><rect x="284.12" y="289.90" width="3.3" height="3.3"/><rect x="288.79" y="289.90" width="3.3" height="3.3"/><rect x="293.46" y="289.90" width="3.3" height="3.3"/><rect x="298.14" y="289.90" width="3.3" height="3.3"/><rect x="302.81" y="289.90" width="3.3" height="3.3"/><rect x="307.48" y="289.90" width="3.3" height="3.3"/><rect x="312.15" y="289.90" width="3.3" height="3.3"/><rect x="316.82" y="289.90" width="3.3" height="3.3"/><rect x="321.50" y="289.90" width="3.3" height="3.3"/><rect x="326.17" y="289.90" width="3.3" height="3.3"/><rect x="330.84" y="289.90" width="3.3" height="3.3"/><rect x="335.51" y="289.90" width="3.3" height="3.3"/><rect x="340.19" y="289.90" width="3.3" height="3.3"/><rect x="344.86" y="289.90" width="3.3" height="3.3"/><rect x="349.53" y="289.90" width="3.3" height="3.3"/><rect x="354.20" y="289.90" width="3.3" height="3.3"/><rect x="358.88" y="289.90" width="3.3" height="3.3"/><rect x="363.55" y="289.90" width="3.3" height="3.3"/><rect x="368.22" y="289.90" width="3.3" height="3.3"/><rect x="372.89" y="289.90" width="3.3" height="3.3"/><rect x="377.56" y="289.90" width="3.3" height="3.3"/><rect x="382.24" y="289.90" width="3.3" height="3.3"/><rect x="386.91" y="289.90" width="3.3" height="3.3"/><rect x="391.58" y="289.90" width="3.3" height="3.3"/><rect x="396.25" y="289.90" width="3.3" height="3.3"/><rect x="400.93" y="289.90" width="3.3" height="3.3"/><rect x="405.60" y="289.90" width="3.3" height="3.3"/><rect x="410.27" y="289.90" width="3.3" height="3.3"/><rect x="414.94" y="289.90" width="3.3" height="3.3"/><rect x="419.62" y="289.90" width="3.3" height="3.3"/><rect x="424.29" y="289.90" width="3.3" height="3.3"/><rect x="428.96" y="289.90" width="3.3" height="3.3"/><rect x="433.63" y="289.90" width="3.3" height="3.3"/><rect x="438.30" y="289.90" width="3.3" height="3.3"/><rect x="442.98" y="289.90" width="3.3" height="3.3"/><rect x="447.65" y="289.90" width="3.3" height="3.3"/><rect x="452.32" y="289.90" width="3.3" height="3.3"/><rect x="456.99" y="289.90" width="3.3" height="3.3"/><rect x="461.67" y="289.90" width="3.3" height="3.3"/><rect x="466.34" y="289.90" width="3.3" height="3.3"/><rect x="471.01" y="289.90" width="3.3" height="3.3"/><rect x="475.68" y="289.90" width="3.3" height="3.3"/><rect x="480.36" y="289.90" width="3.3" height="3.3"/><rect x="485.03" y="289.90" width="3.3" height="3.3"/><rect x="489.70" y="289.90" width="3.3" height="3.3"/><rect x="186.00" y="318.20" width="3.3" height="3.3"/><rect x="190.67" y="318.20" width="3.3" height="3.3"/><rect x="195.34" y="318.20" width="3.3" height="3.3"/><rect x="200.00" y="318.20" width="3.3" height="3.3"/><rect x="204.67" y="318.20" width="3.3" height="3.3"/><rect x="209.34" y="318.20" width="3.3" height="3.3"/><rect x="214.01" y="318.20" width="3.3" height="3.3"/><rect x="218.67" y="318.20" width="3.3" height="3.3"/><rect x="223.34" y="318.20" width="3.3" height="3.3"/><rect x="228.01" y="318.20" width="3.3" height="3.3"/><rect x="232.68" y="318.20" width="3.3" height="3.3"/><rect x="237.34" y="318.20" width="3.3" height="3.3"/><rect x="242.01" y="318.20" width="3.3" height="3.3"/><rect x="246.68" y="318.20" width="3.3" height="3.3"/><rect x="251.35" y="318.20" width="3.3" height="3.3"/><rect x="256.01" y="318.20" width="3.3" height="3.3"/><rect x="260.68" y="318.20" width="3.3" height="3.3"/><rect x="265.35" y="318.20" width="3.3" height="3.3"/><rect x="270.02" y="318.20" width="3.3" height="3.3"/><rect x="274.69" y="318.20" width="3.3" height="3.3"/><rect x="279.35" y="318.20" width="3.3" height="3.3"/><rect x="284.02" y="318.20" width="3.3" height="3.3"/><rect x="288.69" y="318.20" width="3.3" height="3.3"/><rect x="293.36" y="318.20" width="3.3" height="3.3"/><rect x="298.02" y="318.20" width="3.3" height="3.3"/><rect x="302.69" y="318.20" width="3.3" height="3.3"/><rect x="307.36" y="318.20" width="3.3" height="3.3"/><rect x="312.03" y="318.20" width="3.3" height="3.3"/><rect x="316.69" y="318.20" width="3.3" height="3.3"/><rect x="321.36" y="318.20" width="3.3" height="3.3"/><rect x="326.03" y="318.20" width="3.3" height="3.3"/><rect x="330.70" y="318.20" width="3.3" height="3.3"/><rect x="335.36" y="318.20" width="3.3" height="3.3"/><rect x="340.03" y="318.20" width="3.3" height="3.3"/><rect x="344.70" y="318.20" width="3.3" height="3.3"/><rect x="349.37" y="318.20" width="3.3" height="3.3"/><rect x="354.04" y="318.20" width="3.3" height="3.3"/><rect x="358.70" y="318.20" width="3.3" height="3.3"/><rect x="363.37" y="318.20" width="3.3" height="3.3"/><rect x="368.04" y="318.20" width="3.3" height="3.3"/><rect x="372.71" y="318.20" width="3.3" height="3.3"/><rect x="377.37" y="318.20" width="3.3" height="3.3"/><rect x="382.04" y="318.20" width="3.3" height="3.3"/><rect x="386.71" y="318.20" width="3.3" height="3.3"/><rect x="391.38" y="318.20" width="3.3" height="3.3"/><rect x="396.04" y="318.20" width="3.3" height="3.3"/><rect x="400.71" y="318.20" width="3.3" height="3.3"/><rect x="405.38" y="318.20" width="3.3" height="3.3"/><rect x="410.05" y="318.20" width="3.3" height="3.3"/><rect x="414.71" y="318.20" width="3.3" height="3.3"/><rect x="419.38" y="318.20" width="3.3" height="3.3"/><rect x="424.05" y="318.20" width="3.3" height="3.3"/><rect x="428.72" y="318.20" width="3.3" height="3.3"/><rect x="433.39" y="318.20" width="3.3" height="3.3"/><rect x="438.05" y="318.20" width="3.3" height="3.3"/><rect x="442.72" y="318.20" width="3.3" height="3.3"/><rect x="447.39" y="318.20" width="3.3" height="3.3"/><rect x="452.06" y="318.20" width="3.3" height="3.3"/><rect x="456.72" y="318.20" width="3.3" height="3.3"/><rect x="461.39" y="318.20" width="3.3" height="3.3"/><rect x="466.06" y="318.20" width="3.3" height="3.3"/><rect x="470.73" y="318.20" width="3.3" height="3.3"/><rect x="475.39" y="318.20" width="3.3" height="3.3"/><rect x="480.06" y="318.20" width="3.3" height="3.3"/><rect x="484.73" y="318.20" width="3.3" height="3.3"/><rect x="489.40" y="318.20" width="3.3" height="3.3"/><rect x="494.06" y="318.20" width="3.3" height="3.3"/><rect x="498.73" y="318.20" width="3.3" height="3.3"/><rect x="503.40" y="318.20" width="3.3" height="3.3"/><rect x="172.30" y="346.50" width="3.3" height="3.3"/><rect x="176.96" y="346.50" width="3.3" height="3.3"/><rect x="181.63" y="346.50" width="3.3" height="3.3"/><rect x="186.29" y="346.50" width="3.3" height="3.3"/><rect x="190.95" y="346.50" width="3.3" height="3.3"/><rect x="195.62" y="346.50" width="3.3" height="3.3"/><rect x="200.28" y="346.50" width="3.3" height="3.3"/><rect x="204.95" y="346.50" width="3.3" height="3.3"/><rect x="209.61" y="346.50" width="3.3" height="3.3"/><rect x="214.27" y="346.50" width="3.3" height="3.3"/><rect x="218.94" y="346.50" width="3.3" height="3.3"/><rect x="223.60" y="346.50" width="3.3" height="3.3"/><rect x="228.26" y="346.50" width="3.3" height="3.3"/><rect x="232.93" y="346.50" width="3.3" height="3.3"/><rect x="237.59" y="346.50" width="3.3" height="3.3"/><rect x="242.25" y="346.50" width="3.3" height="3.3"/><rect x="246.92" y="346.50" width="3.3" height="3.3"/><rect x="251.58" y="346.50" width="3.3" height="3.3"/><rect x="256.25" y="346.50" width="3.3" height="3.3"/><rect x="260.91" y="346.50" width="3.3" height="3.3"/><rect x="265.57" y="346.50" width="3.3" height="3.3"/><rect x="270.24" y="346.50" width="3.3" height="3.3"/><rect x="274.90" y="346.50" width="3.3" height="3.3"/><rect x="279.56" y="346.50" width="3.3" height="3.3"/><rect x="284.23" y="346.50" width="3.3" height="3.3"/><rect x="288.89" y="346.50" width="3.3" height="3.3"/><rect x="293.55" y="346.50" width="3.3" height="3.3"/><rect x="298.22" y="346.50" width="3.3" height="3.3"/><rect x="302.88" y="346.50" width="3.3" height="3.3"/><rect x="307.55" y="346.50" width="3.3" height="3.3"/><rect x="312.21" y="346.50" width="3.3" height="3.3"/><rect x="316.87" y="346.50" width="3.3" height="3.3"/><rect x="321.54" y="346.50" width="3.3" height="3.3"/><rect x="326.20" y="346.50" width="3.3" height="3.3"/><rect x="330.86" y="346.50" width="3.3" height="3.3"/><rect x="335.53" y="346.50" width="3.3" height="3.3"/><rect x="340.19" y="346.50" width="3.3" height="3.3"/><rect x="344.85" y="346.50" width="3.3" height="3.3"/><rect x="349.52" y="346.50" width="3.3" height="3.3"/><rect x="354.18" y="346.50" width="3.3" height="3.3"/><rect x="358.85" y="346.50" width="3.3" height="3.3"/><rect x="363.51" y="346.50" width="3.3" height="3.3"/><rect x="368.17" y="346.50" width="3.3" height="3.3"/><rect x="372.84" y="346.50" width="3.3" height="3.3"/><rect x="377.50" y="346.50" width="3.3" height="3.3"/><rect x="382.16" y="346.50" width="3.3" height="3.3"/><rect x="386.83" y="346.50" width="3.3" height="3.3"/><rect x="391.49" y="346.50" width="3.3" height="3.3"/><rect x="396.15" y="346.50" width="3.3" height="3.3"/><rect x="400.82" y="346.50" width="3.3" height="3.3"/><rect x="405.48" y="346.50" width="3.3" height="3.3"/><rect x="410.15" y="346.50" width="3.3" height="3.3"/><rect x="414.81" y="346.50" width="3.3" height="3.3"/><rect x="419.47" y="346.50" width="3.3" height="3.3"/><rect x="424.14" y="346.50" width="3.3" height="3.3"/><rect x="428.80" y="346.50" width="3.3" height="3.3"/><rect x="433.46" y="346.50" width="3.3" height="3.3"/><rect x="438.13" y="346.50" width="3.3" height="3.3"/><rect x="442.79" y="346.50" width="3.3" height="3.3"/><rect x="447.45" y="346.50" width="3.3" height="3.3"/><rect x="452.12" y="346.50" width="3.3" height="3.3"/><rect x="456.78" y="346.50" width="3.3" height="3.3"/><rect x="461.45" y="346.50" width="3.3" height="3.3"/><rect x="466.11" y="346.50" width="3.3" height="3.3"/><rect x="470.77" y="346.50" width="3.3" height="3.3"/><rect x="475.44" y="346.50" width="3.3" height="3.3"/><rect x="480.10" y="346.50" width="3.3" height="3.3"/><rect x="484.76" y="346.50" width="3.3" height="3.3"/><rect x="489.43" y="346.50" width="3.3" height="3.3"/><rect x="494.09" y="346.50" width="3.3" height="3.3"/><rect x="498.75" y="346.50" width="3.3" height="3.3"/><rect x="503.42" y="346.50" width="3.3" height="3.3"/><rect x="508.08" y="346.50" width="3.3" height="3.3"/><rect x="512.75" y="346.50" width="3.3" height="3.3"/><rect x="517.41" y="346.50" width="3.3" height="3.3"/><rect x="522.07" y="346.50" width="3.3" height="3.3"/><rect x="526.74" y="346.50" width="3.3" height="3.3"/><rect x="531.40" y="346.50" width="3.3" height="3.3"/><rect x="270.00" y="374.80" width="3.3" height="3.3"/><rect x="274.67" y="374.80" width="3.3" height="3.3"/><rect x="279.34" y="374.80" width="3.3" height="3.3"/><rect x="284.00" y="374.80" width="3.3" height="3.3"/><rect x="288.67" y="374.80" width="3.3" height="3.3"/><rect x="293.34" y="374.80" width="3.3" height="3.3"/><rect x="298.01" y="374.80" width="3.3" height="3.3"/><rect x="302.68" y="374.80" width="3.3" height="3.3"/><rect x="307.34" y="374.80" width="3.3" height="3.3"/><rect x="312.01" y="374.80" width="3.3" height="3.3"/><rect x="316.68" y="374.80" width="3.3" height="3.3"/><rect x="321.35" y="374.80" width="3.3" height="3.3"/><rect x="326.01" y="374.80" width="3.3" height="3.3"/><rect x="330.68" y="374.80" width="3.3" height="3.3"/><rect x="335.35" y="374.80" width="3.3" height="3.3"/><rect x="340.02" y="374.80" width="3.3" height="3.3"/><rect x="344.69" y="374.80" width="3.3" height="3.3"/><rect x="349.35" y="374.80" width="3.3" height="3.3"/><rect x="354.02" y="374.80" width="3.3" height="3.3"/><rect x="358.69" y="374.80" width="3.3" height="3.3"/><rect x="363.36" y="374.80" width="3.3" height="3.3"/><rect x="368.03" y="374.80" width="3.3" height="3.3"/><rect x="372.69" y="374.80" width="3.3" height="3.3"/><rect x="377.36" y="374.80" width="3.3" height="3.3"/><rect x="382.03" y="374.80" width="3.3" height="3.3"/><rect x="386.70" y="374.80" width="3.3" height="3.3"/><rect x="391.36" y="374.80" width="3.3" height="3.3"/><rect x="396.03" y="374.80" width="3.3" height="3.3"/><rect x="400.70" y="374.80" width="3.3" height="3.3"/><rect x="405.37" y="374.80" width="3.3" height="3.3"/><rect x="410.04" y="374.80" width="3.3" height="3.3"/><rect x="414.70" y="374.80" width="3.3" height="3.3"/><rect x="419.37" y="374.80" width="3.3" height="3.3"/><rect x="424.04" y="374.80" width="3.3" height="3.3"/><rect x="428.71" y="374.80" width="3.3" height="3.3"/><rect x="433.38" y="374.80" width="3.3" height="3.3"/><rect x="438.04" y="374.80" width="3.3" height="3.3"/><rect x="442.71" y="374.80" width="3.3" height="3.3"/><rect x="447.38" y="374.80" width="3.3" height="3.3"/><rect x="452.05" y="374.80" width="3.3" height="3.3"/><rect x="456.71" y="374.80" width="3.3" height="3.3"/><rect x="461.38" y="374.80" width="3.3" height="3.3"/><rect x="466.05" y="374.80" width="3.3" height="3.3"/><rect x="470.72" y="374.80" width="3.3" height="3.3"/><rect x="475.39" y="374.80" width="3.3" height="3.3"/><rect x="480.05" y="374.80" width="3.3" height="3.3"/><rect x="484.72" y="374.80" width="3.3" height="3.3"/><rect x="489.39" y="374.80" width="3.3" height="3.3"/><rect x="494.06" y="374.80" width="3.3" height="3.3"/><rect x="498.73" y="374.80" width="3.3" height="3.3"/><rect x="503.39" y="374.80" width="3.3" height="3.3"/><rect x="508.06" y="374.80" width="3.3" height="3.3"/><rect x="512.73" y="374.80" width="3.3" height="3.3"/><rect x="517.40" y="374.80" width="3.3" height="3.3"/><rect x="522.06" y="374.80" width="3.3" height="3.3"/><rect x="526.73" y="374.80" width="3.3" height="3.3"/><rect x="531.40" y="374.80" width="3.3" height="3.3"/><rect x="270.00" y="403.10" width="3.3" height="3.3"/><rect x="274.67" y="403.10" width="3.3" height="3.3"/><rect x="279.34" y="403.10" width="3.3" height="3.3"/><rect x="284.00" y="403.10" width="3.3" height="3.3"/><rect x="288.67" y="403.10" width="3.3" height="3.3"/><rect x="293.34" y="403.10" width="3.3" height="3.3"/><rect x="298.01" y="403.10" width="3.3" height="3.3"/><rect x="302.68" y="403.10" width="3.3" height="3.3"/><rect x="307.34" y="403.10" width="3.3" height="3.3"/><rect x="312.01" y="403.10" width="3.3" height="3.3"/><rect x="316.68" y="403.10" width="3.3" height="3.3"/><rect x="321.35" y="403.10" width="3.3" height="3.3"/><rect x="326.01" y="403.10" width="3.3" height="3.3"/><rect x="330.68" y="403.10" width="3.3" height="3.3"/><rect x="335.35" y="403.10" width="3.3" height="3.3"/><rect x="340.02" y="403.10" width="3.3" height="3.3"/><rect x="344.69" y="403.10" width="3.3" height="3.3"/><rect x="349.35" y="403.10" width="3.3" height="3.3"/><rect x="354.02" y="403.10" width="3.3" height="3.3"/><rect x="358.69" y="403.10" width="3.3" height="3.3"/><rect x="363.36" y="403.10" width="3.3" height="3.3"/><rect x="368.03" y="403.10" width="3.3" height="3.3"/><rect x="372.69" y="403.10" width="3.3" height="3.3"/><rect x="377.36" y="403.10" width="3.3" height="3.3"/><rect x="382.03" y="403.10" width="3.3" height="3.3"/><rect x="386.70" y="403.10" width="3.3" height="3.3"/><rect x="391.36" y="403.10" width="3.3" height="3.3"/><rect x="396.03" y="403.10" width="3.3" height="3.3"/><rect x="400.70" y="403.10" width="3.3" height="3.3"/><rect x="405.37" y="403.10" width="3.3" height="3.3"/><rect x="410.04" y="403.10" width="3.3" height="3.3"/><rect x="414.70" y="403.10" width="3.3" height="3.3"/><rect x="419.37" y="403.10" width="3.3" height="3.3"/><rect x="424.04" y="403.10" width="3.3" height="3.3"/><rect x="428.71" y="403.10" width="3.3" height="3.3"/><rect x="433.38" y="403.10" width="3.3" height="3.3"/><rect x="438.04" y="403.10" width="3.3" height="3.3"/><rect x="442.71" y="403.10" width="3.3" height="3.3"/><rect x="447.38" y="403.10" width="3.3" height="3.3"/><rect x="452.05" y="403.10" width="3.3" height="3.3"/><rect x="456.71" y="403.10" width="3.3" height="3.3"/><rect x="461.38" y="403.10" width="3.3" height="3.3"/><rect x="466.05" y="403.10" width="3.3" height="3.3"/><rect x="470.72" y="403.10" width="3.3" height="3.3"/><rect x="475.39" y="403.10" width="3.3" height="3.3"/><rect x="480.05" y="403.10" width="3.3" height="3.3"/><rect x="484.72" y="403.10" width="3.3" height="3.3"/><rect x="489.39" y="403.10" width="3.3" height="3.3"/><rect x="494.06" y="403.10" width="3.3" height="3.3"/><rect x="498.73" y="403.10" width="3.3" height="3.3"/><rect x="503.39" y="403.10" width="3.3" height="3.3"/><rect x="508.06" y="403.10" width="3.3" height="3.3"/><rect x="512.73" y="403.10" width="3.3" height="3.3"/><rect x="517.40" y="403.10" width="3.3" height="3.3"/><rect x="522.06" y="403.10" width="3.3" height="3.3"/><rect x="526.73" y="403.10" width="3.3" height="3.3"/><rect x="531.40" y="403.10" width="3.3" height="3.3"/></g>
<path d="M76.60 362.00L76.60 367.40M74.26 363.35L78.94 366.05M74.26 366.05L78.94 363.35M76.60 390.30L76.60 395.70M74.26 391.65L78.94 394.35M74.26 394.35L78.94 391.65M76.55 430.10L76.55 435.60M74.17 431.48L78.93 434.23M74.17 434.23L78.93 431.48" stroke="#fff" stroke-width="1.5" stroke-linecap="round" fill="none"/>
</g>
</svg>
</body></html>
